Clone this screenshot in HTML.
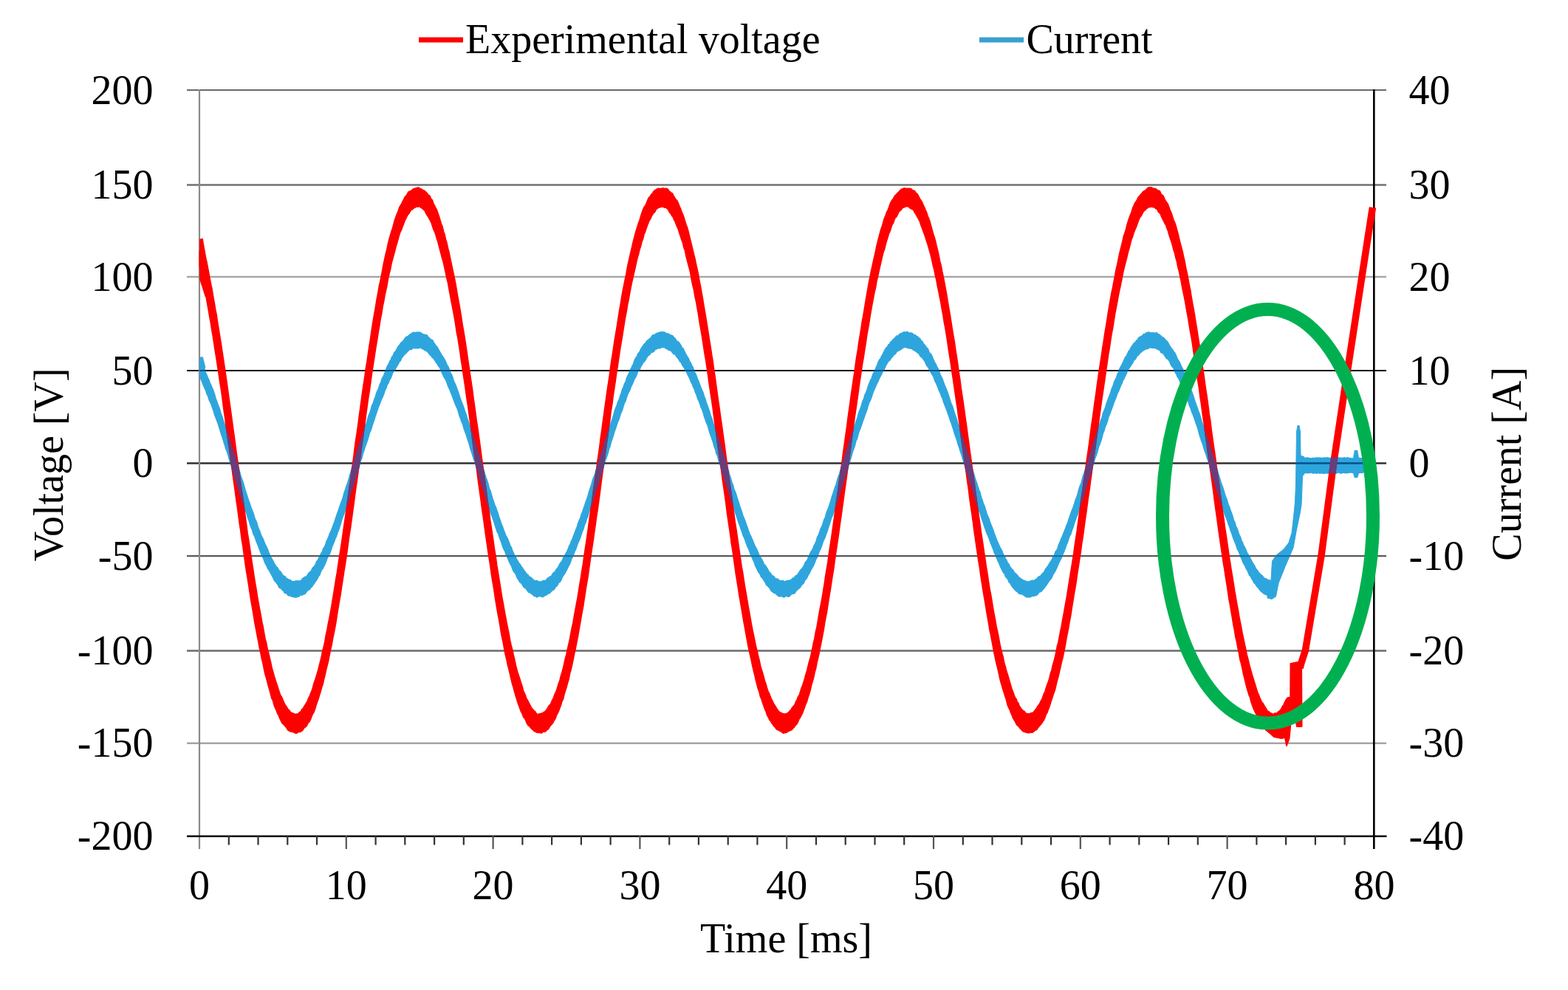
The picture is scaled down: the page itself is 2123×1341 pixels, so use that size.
<!DOCTYPE html>
<html><head><meta charset="utf-8"><title>Voltage and current</title>
<style>html,body{margin:0;padding:0;background:#fff;overflow:hidden;width:2123px;height:1341px;}svg{display:block;}</style>
</head><body>
<svg width="2123" height="1341" viewBox="0 0 2123 1341"><rect width="2123" height="1341" fill="#fff"/><g><line x1="253" y1="122.0" x2="1877" y2="122.0" stroke="#6a6a6a" stroke-width="2.2"/><line x1="253" y1="250.5" x2="1877" y2="250.5" stroke="#707070" stroke-width="2.5"/><line x1="253" y1="375.0" x2="1877" y2="375.0" stroke="#a8a8a8" stroke-width="2.6"/><line x1="253" y1="502.0" x2="1877" y2="502.0" stroke="#050505" stroke-width="2.2"/><line x1="253" y1="627.5" x2="1877" y2="627.5" stroke="#303030" stroke-width="2.5"/><line x1="253" y1="753.2" x2="1877" y2="753.2" stroke="#5a5a5a" stroke-width="2.2"/><line x1="253" y1="881.5" x2="1877" y2="881.5" stroke="#6a6a6a" stroke-width="2.6"/><line x1="253" y1="1006.7" x2="1877" y2="1006.7" stroke="#a5a5a5" stroke-width="2.4"/></g><line x1="270" y1="121" x2="270" y2="1150" stroke="#8a8a8a" stroke-width="2.2"/><line x1="1860.3" y1="121" x2="1860.3" y2="1150" stroke="#000" stroke-width="2.6"/><line x1="253" y1="1132.8" x2="1877.5" y2="1132.8" stroke="#000" stroke-width="2.6"/><g><line x1="309.8" y1="1132" x2="309.8" y2="1144.5" stroke="#333" stroke-width="2.2"/><line x1="349.5" y1="1132" x2="349.5" y2="1144.5" stroke="#333" stroke-width="2.2"/><line x1="389.3" y1="1132" x2="389.3" y2="1144.5" stroke="#333" stroke-width="2.2"/><line x1="429.0" y1="1132" x2="429.0" y2="1144.5" stroke="#333" stroke-width="2.2"/><line x1="468.8" y1="1132" x2="468.8" y2="1150" stroke="#555" stroke-width="2.2"/><line x1="508.6" y1="1132" x2="508.6" y2="1144.5" stroke="#333" stroke-width="2.2"/><line x1="548.3" y1="1132" x2="548.3" y2="1144.5" stroke="#333" stroke-width="2.2"/><line x1="588.1" y1="1132" x2="588.1" y2="1144.5" stroke="#333" stroke-width="2.2"/><line x1="627.8" y1="1132" x2="627.8" y2="1144.5" stroke="#333" stroke-width="2.2"/><line x1="667.6" y1="1132" x2="667.6" y2="1150" stroke="#555" stroke-width="2.2"/><line x1="707.4" y1="1132" x2="707.4" y2="1144.5" stroke="#333" stroke-width="2.2"/><line x1="747.1" y1="1132" x2="747.1" y2="1144.5" stroke="#333" stroke-width="2.2"/><line x1="786.9" y1="1132" x2="786.9" y2="1144.5" stroke="#333" stroke-width="2.2"/><line x1="826.6" y1="1132" x2="826.6" y2="1144.5" stroke="#333" stroke-width="2.2"/><line x1="866.4" y1="1132" x2="866.4" y2="1150" stroke="#555" stroke-width="2.2"/><line x1="906.2" y1="1132" x2="906.2" y2="1144.5" stroke="#333" stroke-width="2.2"/><line x1="945.9" y1="1132" x2="945.9" y2="1144.5" stroke="#333" stroke-width="2.2"/><line x1="985.7" y1="1132" x2="985.7" y2="1144.5" stroke="#333" stroke-width="2.2"/><line x1="1025.4" y1="1132" x2="1025.4" y2="1144.5" stroke="#333" stroke-width="2.2"/><line x1="1065.2" y1="1132" x2="1065.2" y2="1150" stroke="#555" stroke-width="2.2"/><line x1="1105.0" y1="1132" x2="1105.0" y2="1144.5" stroke="#333" stroke-width="2.2"/><line x1="1144.7" y1="1132" x2="1144.7" y2="1144.5" stroke="#333" stroke-width="2.2"/><line x1="1184.5" y1="1132" x2="1184.5" y2="1144.5" stroke="#333" stroke-width="2.2"/><line x1="1224.2" y1="1132" x2="1224.2" y2="1144.5" stroke="#333" stroke-width="2.2"/><line x1="1264.0" y1="1132" x2="1264.0" y2="1150" stroke="#555" stroke-width="2.2"/><line x1="1303.8" y1="1132" x2="1303.8" y2="1144.5" stroke="#333" stroke-width="2.2"/><line x1="1343.5" y1="1132" x2="1343.5" y2="1144.5" stroke="#333" stroke-width="2.2"/><line x1="1383.3" y1="1132" x2="1383.3" y2="1144.5" stroke="#333" stroke-width="2.2"/><line x1="1423.0" y1="1132" x2="1423.0" y2="1144.5" stroke="#333" stroke-width="2.2"/><line x1="1462.8" y1="1132" x2="1462.8" y2="1150" stroke="#555" stroke-width="2.2"/><line x1="1502.6" y1="1132" x2="1502.6" y2="1144.5" stroke="#333" stroke-width="2.2"/><line x1="1542.3" y1="1132" x2="1542.3" y2="1144.5" stroke="#333" stroke-width="2.2"/><line x1="1582.1" y1="1132" x2="1582.1" y2="1144.5" stroke="#333" stroke-width="2.2"/><line x1="1621.8" y1="1132" x2="1621.8" y2="1144.5" stroke="#333" stroke-width="2.2"/><line x1="1661.6" y1="1132" x2="1661.6" y2="1150" stroke="#555" stroke-width="2.2"/><line x1="1701.4" y1="1132" x2="1701.4" y2="1144.5" stroke="#333" stroke-width="2.2"/><line x1="1741.1" y1="1132" x2="1741.1" y2="1144.5" stroke="#333" stroke-width="2.2"/><line x1="1780.9" y1="1132" x2="1780.9" y2="1144.5" stroke="#333" stroke-width="2.2"/><line x1="1820.6" y1="1132" x2="1820.6" y2="1144.5" stroke="#333" stroke-width="2.2"/></g><defs><g id="bl"><path d="M272.5,494.6 L274.0,497.2 L275.5,500.7 L277.0,505.1 L278.5,508.6 L280.0,512.2 L281.5,515.2 L283.0,519.6 L284.5,522.5 L286.0,526.5 L287.5,529.8 L289.0,534.1 L290.5,539.7 L292.0,543.6 L293.5,548.2 L295.0,551.6 L296.5,556.2 L298.0,561.6 L299.5,565.0 L301.0,570.2 L302.5,574.6 L304.0,578.5 L305.5,584.3 L307.0,588.4 L308.5,592.8 L310.0,597.0 L311.5,602.9 L313.0,608.2 L314.5,613.2 L316.0,616.6 L317.5,621.2 L319.0,626.3 L320.5,631.4 L322.0,635.6 L323.5,641.1 L325.0,646.7 L326.5,650.3 L328.0,654.7 L329.5,660.2 L331.0,665.6 L332.5,669.9 L334.0,674.7 L335.5,679.1 L337.0,683.1 L338.5,688.1 L340.0,691.6 L341.5,695.4 L343.0,700.7 L344.5,704.7 L346.0,707.7 L347.5,713.3 L349.0,717.2 L350.5,720.4 L352.0,725.3 L353.5,728.4 L355.0,730.9 L356.5,735.3 L358.0,738.5 L359.5,741.4 L361.0,744.7 L362.5,748.8 L364.0,752.5 L365.5,755.5 L367.0,758.1 L368.5,760.6 L370.0,763.9 L371.5,766.2 L373.0,768.8 L374.5,769.9 L376.0,772.8 L377.5,774.6 L379.0,775.5 L380.5,778.1 L382.0,780.5 L383.5,781.5 L385.0,781.9 L386.5,784.8 L388.0,784.9 L389.5,785.9 L391.0,786.8 L392.5,786.9 L394.0,788.7 L395.5,789.3 L397.0,788.9 L398.5,789.5 L400.0,788.6 L401.5,788.5 L403.0,788.3 L404.5,789.1 L406.0,788.3 L407.5,788.4 L409.0,787.1 L410.5,784.9 L412.0,783.9 L413.5,782.7 L415.0,782.8 L416.5,781.4 L418.0,779.0 L419.5,776.9 L421.0,775.5 L422.5,774.7 L424.0,771.0 L425.5,769.1 L427.0,767.9 L428.5,765.2 L430.0,761.4 L431.5,759.8 L433.0,756.4 L434.5,754.7 L436.0,750.2 L437.5,748.6 L439.0,743.8 L440.5,741.7 L442.0,738.7 L443.5,733.6 L445.0,730.9 L446.5,727.4 L448.0,722.8 L449.5,720.1 L451.0,716.2 L452.5,712.2 L454.0,708.4 L455.5,703.8 L457.0,699.1 L458.5,695.1 L460.0,690.6 L461.5,686.2 L463.0,681.9 L464.5,678.3 L466.0,673.4 L467.5,667.7 L469.0,663.9 L470.5,658.8 L472.0,655.0 L473.5,650.0 L475.0,644.2 L476.5,639.8 L478.0,634.4 L479.5,630.2 L481.0,625.6 L482.5,620.9 L484.0,616.0 L485.5,610.8 L487.0,605.5 L488.5,601.5 L490.0,596.2 L491.5,592.8 L493.0,588.2 L494.5,583.5 L496.0,577.5 L497.5,574.1 L499.0,568.5 L500.5,563.5 L502.0,560.3 L503.5,555.5 L505.0,549.9 L506.5,547.2 L508.0,542.2 L509.5,538.6 L511.0,533.4 L512.5,529.7 L514.0,526.7 L515.5,521.6 L517.0,518.8 L518.5,513.6 L520.0,511.3 L521.5,507.8 L523.0,503.9 L524.5,500.1 L526.0,496.1 L527.5,494.2 L529.0,490.2 L530.5,488.2 L532.0,484.1 L533.5,482.5 L535.0,478.7 L536.5,477.2 L538.0,474.8 L539.5,471.8 L541.0,469.4 L542.5,467.8 L544.0,465.4 L545.5,464.3 L547.0,462.8 L548.5,460.7 L550.0,458.4 L551.5,457.5 L553.0,456.7 L554.5,455.8 L556.0,453.9 L557.5,454.2 L559.0,452.1 L560.5,451.8 L562.0,452.1 L563.5,452.0 L565.0,451.4 L566.5,452.1 L568.0,451.5 L569.5,452.4 L571.0,453.6 L572.5,454.1 L574.0,454.5 L575.5,455.6 L577.0,455.1 L578.5,457.4 L580.0,458.6 L581.5,460.2 L583.0,461.5 L584.5,461.8 L586.0,465.0 L587.5,466.8 L589.0,469.4 L590.5,470.6 L592.0,473.4 L593.5,476.2 L595.0,478.5 L596.5,481.2 L598.0,483.4 L599.5,485.7 L601.0,488.4 L602.5,491.5 L604.0,495.3 L605.5,497.4 L607.0,501.3 L608.5,506.0 L610.0,507.9 L611.5,511.9 L613.0,516.8 L614.5,519.9 L616.0,523.2 L617.5,527.6 L619.0,531.5 L620.5,536.5 L622.0,540.8 L623.5,545.2 L625.0,548.6 L626.5,552.8 L628.0,557.5 L629.5,561.4 L631.0,566.5 L632.5,570.8 L634.0,575.2 L635.5,581.2 L637.0,584.6 L638.5,589.3 L640.0,594.5 L641.5,599.3 L643.0,603.5 L644.5,608.5 L646.0,614.3 L647.5,617.9 L649.0,623.1 L650.5,628.9 L652.0,632.5 L653.5,637.2 L655.0,642.3 L656.5,647.2 L658.0,651.1 L659.5,655.6 L661.0,662.2 L662.5,665.2 L664.0,670.6 L665.5,675.6 L667.0,680.1 L668.5,684.7 L670.0,687.6 L671.5,692.2 L673.0,696.4 L674.5,701.9 L676.0,705.6 L677.5,710.6 L679.0,713.8 L680.5,718.4 L682.0,721.9 L683.5,726.3 L685.0,728.4 L686.5,731.9 L688.0,735.5 L689.5,740.0 L691.0,742.1 L692.5,746.6 L694.0,749.9 L695.5,753.3 L697.0,755.9 L698.5,758.8 L700.0,761.0 L701.5,763.8 L703.0,765.3 L704.5,768.2 L706.0,769.8 L707.5,772.4 L709.0,774.4 L710.5,776.2 L712.0,778.9 L713.5,779.3 L715.0,781.6 L716.5,783.3 L718.0,783.2 L719.5,785.0 L721.0,786.1 L722.5,787.7 L724.0,788.3 L725.5,788.3 L727.0,788.0 L728.5,789.1 L730.0,789.8 L731.5,789.5 L733.0,789.6 L734.5,788.7 L736.0,788.0 L737.5,788.1 L739.0,787.5 L740.5,787.3 L742.0,784.6 L743.5,784.4 L745.0,782.5 L746.5,782.4 L748.0,780.6 L749.5,778.0 L751.0,776.4 L752.5,776.2 L754.0,772.5 L755.5,771.0 L757.0,769.2 L758.5,766.0 L760.0,763.3 L761.5,762.4 L763.0,758.9 L764.5,755.3 L766.0,752.9 L767.5,750.3 L769.0,748.0 L770.5,744.4 L772.0,740.2 L773.5,737.8 L775.0,733.3 L776.5,730.7 L778.0,726.2 L779.5,722.7 L781.0,718.4 L782.5,715.0 L784.0,709.7 L785.5,705.8 L787.0,702.9 L788.5,697.2 L790.0,694.2 L791.5,689.5 L793.0,685.2 L794.5,680.3 L796.0,676.6 L797.5,671.9 L799.0,666.6 L800.5,661.7 L802.0,657.6 L803.5,652.0 L805.0,647.6 L806.5,644.0 L808.0,639.1 L809.5,633.9 L811.0,629.7 L812.5,624.0 L814.0,620.2 L815.5,615.3 L817.0,610.6 L818.5,606.0 L820.0,599.6 L821.5,595.1 L823.0,590.0 L824.5,586.7 L826.0,581.0 L827.5,576.5 L829.0,572.4 L830.5,568.2 L832.0,563.5 L833.5,557.7 L835.0,553.2 L836.5,550.0 L838.0,544.8 L839.5,542.0 L841.0,537.2 L842.5,533.4 L844.0,527.9 L845.5,524.9 L847.0,520.3 L848.5,517.9 L850.0,512.4 L851.5,509.1 L853.0,506.3 L854.5,501.6 L856.0,499.6 L857.5,496.2 L859.0,493.6 L860.5,488.7 L862.0,485.7 L863.5,484.2 L865.0,480.1 L866.5,478.5 L868.0,475.9 L869.5,472.5 L871.0,470.5 L872.5,468.3 L874.0,466.6 L875.5,465.3 L877.0,462.6 L878.5,462.0 L880.0,460.4 L881.5,459.4 L883.0,457.6 L884.5,455.3 L886.0,455.5 L887.5,455.0 L889.0,453.0 L890.5,453.3 L892.0,452.1 L893.5,451.5 L895.0,451.5 L896.5,451.1 L898.0,451.7 L899.5,451.5 L901.0,452.8 L902.5,453.5 L904.0,453.3 L905.5,454.4 L907.0,455.1 L908.5,455.5 L910.0,456.3 L911.5,458.6 L913.0,459.3 L914.5,462.4 L916.0,463.9 L917.5,464.1 L919.0,466.1 L920.5,468.2 L922.0,471.6 L923.5,472.6 L925.0,475.7 L926.5,478.9 L928.0,481.7 L929.5,484.3 L931.0,486.4 L932.5,490.6 L934.0,492.4 L935.5,496.3 L937.0,498.6 L938.5,503.5 L940.0,506.3 L941.5,509.4 L943.0,514.0 L944.5,517.3 L946.0,521.3 L947.5,525.2 L949.0,529.1 L950.5,532.2 L952.0,537.3 L953.5,540.8 L955.0,546.5 L956.5,550.0 L958.0,554.4 L959.5,558.8 L961.0,564.1 L962.5,567.5 L964.0,573.1 L965.5,577.2 L967.0,582.3 L968.5,586.2 L970.0,591.8 L971.5,595.2 L973.0,601.1 L974.5,604.4 L976.0,610.1 L977.5,614.0 L979.0,618.9 L980.5,623.8 L982.0,628.7 L983.5,634.3 L985.0,638.2 L986.5,644.2 L988.0,648.3 L989.5,653.8 L991.0,657.4 L992.5,663.4 L994.0,666.6 L995.5,671.0 L997.0,676.1 L998.5,680.5 L1000.0,685.4 L1001.5,689.8 L1003.0,694.1 L1004.5,699.2 L1006.0,702.5 L1007.5,706.2 L1009.0,710.8 L1010.5,714.8 L1012.0,719.5 L1013.5,723.4 L1015.0,726.4 L1016.5,729.8 L1018.0,733.2 L1019.5,737.2 L1021.0,740.6 L1022.5,743.1 L1024.0,746.5 L1025.5,749.8 L1027.0,753.9 L1028.5,756.2 L1030.0,758.2 L1031.5,761.1 L1033.0,765.1 L1034.5,766.2 L1036.0,768.3 L1037.5,770.7 L1039.0,773.4 L1040.5,775.9 L1042.0,777.2 L1043.5,779.8 L1045.0,781.2 L1046.5,781.6 L1048.0,783.9 L1049.5,785.2 L1051.0,785.3 L1052.5,785.7 L1054.0,787.1 L1055.5,788.7 L1057.0,788.2 L1058.5,788.3 L1060.0,788.1 L1061.5,789.5 L1063.0,789.3 L1064.5,788.6 L1066.0,788.1 L1067.5,788.0 L1069.0,787.6 L1070.5,787.4 L1072.0,787.1 L1073.5,785.0 L1075.0,784.1 L1076.5,783.6 L1078.0,781.2 L1079.5,781.0 L1081.0,779.2 L1082.5,777.2 L1084.0,774.6 L1085.5,772.5 L1087.0,771.3 L1088.5,768.9 L1090.0,766.8 L1091.5,762.8 L1093.0,761.1 L1094.5,759.1 L1096.0,755.2 L1097.5,752.1 L1099.0,748.5 L1100.5,746.7 L1102.0,743.8 L1103.5,739.8 L1105.0,737.0 L1106.5,733.6 L1108.0,728.1 L1109.5,725.8 L1111.0,721.4 L1112.5,716.9 L1114.0,714.0 L1115.5,710.4 L1117.0,704.9 L1118.5,702.2 L1120.0,696.5 L1121.5,692.2 L1123.0,688.8 L1124.5,684.4 L1126.0,679.7 L1127.5,674.5 L1129.0,669.9 L1130.5,665.6 L1132.0,660.5 L1133.5,656.8 L1135.0,650.8 L1136.5,646.2 L1138.0,642.7 L1139.5,636.9 L1141.0,632.2 L1142.5,627.1 L1144.0,623.5 L1145.5,618.0 L1147.0,613.1 L1148.5,608.7 L1150.0,603.5 L1151.5,599.2 L1153.0,594.2 L1154.5,590.1 L1156.0,585.7 L1157.5,580.9 L1159.0,576.3 L1160.5,571.2 L1162.0,567.3 L1163.5,561.5 L1165.0,557.0 L1166.5,553.8 L1168.0,548.8 L1169.5,543.6 L1171.0,540.8 L1172.5,535.0 L1174.0,532.4 L1175.5,528.4 L1177.0,523.0 L1178.5,519.5 L1180.0,515.7 L1181.5,513.0 L1183.0,508.1 L1184.5,505.4 L1186.0,502.5 L1187.5,498.6 L1189.0,495.2 L1190.5,490.9 L1192.0,488.1 L1193.5,486.7 L1195.0,483.1 L1196.5,480.5 L1198.0,477.5 L1199.5,474.4 L1201.0,472.1 L1202.5,471.4 L1204.0,467.8 L1205.5,467.3 L1207.0,464.4 L1208.5,463.3 L1210.0,461.3 L1211.5,460.0 L1213.0,458.6 L1214.5,456.5 L1216.0,456.5 L1217.5,455.6 L1219.0,453.6 L1220.5,453.0 L1222.0,452.9 L1223.5,451.5 L1225.0,451.2 L1226.5,452.3 L1228.0,450.9 L1229.5,452.1 L1231.0,452.6 L1232.5,452.4 L1234.0,452.5 L1235.5,453.9 L1237.0,455.1 L1238.5,455.0 L1240.0,457.0 L1241.5,457.0 L1243.0,459.6 L1244.5,459.6 L1246.0,462.5 L1247.5,463.2 L1249.0,466.2 L1250.5,467.9 L1252.0,469.5 L1253.5,472.1 L1255.0,473.1 L1256.5,477.3 L1258.0,479.9 L1259.5,480.8 L1261.0,484.1 L1262.5,488.0 L1264.0,491.2 L1265.5,493.8 L1267.0,497.0 L1268.5,499.7 L1270.0,503.3 L1271.5,507.7 L1273.0,510.8 L1274.5,513.5 L1276.0,518.0 L1277.5,522.1 L1279.0,525.5 L1280.5,529.4 L1282.0,533.3 L1283.5,537.9 L1285.0,542.8 L1286.5,547.5 L1288.0,550.5 L1289.5,555.2 L1291.0,560.0 L1292.5,564.2 L1294.0,568.6 L1295.5,574.2 L1297.0,577.6 L1298.5,582.9 L1300.0,588.4 L1301.5,592.9 L1303.0,596.2 L1304.5,602.6 L1306.0,606.5 L1307.5,611.3 L1309.0,615.5 L1310.5,621.1 L1312.0,626.3 L1313.5,630.8 L1315.0,636.1 L1316.5,640.4 L1318.0,645.3 L1319.5,650.6 L1321.0,654.5 L1322.5,659.3 L1324.0,664.2 L1325.5,667.5 L1327.0,673.5 L1328.5,677.7 L1330.0,682.7 L1331.5,685.8 L1333.0,690.9 L1334.5,695.7 L1336.0,699.7 L1337.5,703.0 L1339.0,707.8 L1340.5,711.7 L1342.0,715.2 L1343.5,719.1 L1345.0,723.9 L1346.5,727.5 L1348.0,732.0 L1349.5,735.1 L1351.0,738.5 L1352.5,741.7 L1354.0,744.5 L1355.5,747.2 L1357.0,752.0 L1358.5,753.3 L1360.0,757.7 L1361.5,759.5 L1363.0,763.3 L1364.5,764.6 L1366.0,768.1 L1367.5,770.2 L1369.0,772.1 L1370.5,773.1 L1372.0,776.5 L1373.5,777.4 L1375.0,779.0 L1376.5,780.3 L1378.0,782.9 L1379.5,783.6 L1381.0,784.9 L1382.5,785.7 L1384.0,787.2 L1385.5,787.5 L1387.0,788.2 L1388.5,788.6 L1390.0,788.9 L1391.5,790.1 L1393.0,789.3 L1394.5,788.8 L1396.0,789.2 L1397.5,787.7 L1399.0,787.9 L1400.5,788.5 L1402.0,786.5 L1403.5,786.3 L1405.0,784.9 L1406.5,783.0 L1408.0,782.1 L1409.5,781.5 L1411.0,779.9 L1412.5,777.9 L1414.0,776.7 L1415.5,774.4 L1417.0,771.6 L1418.5,769.4 L1420.0,767.7 L1421.5,765.3 L1423.0,762.5 L1424.5,760.5 L1426.0,757.8 L1427.5,754.3 L1429.0,752.5 L1430.5,747.8 L1432.0,746.2 L1433.5,743.0 L1435.0,737.9 L1436.5,734.9 L1438.0,730.8 L1439.5,727.8 L1441.0,723.9 L1442.5,720.1 L1444.0,716.2 L1445.5,712.0 L1447.0,709.1 L1448.5,703.8 L1450.0,699.8 L1451.5,695.2 L1453.0,691.4 L1454.5,687.5 L1456.0,683.1 L1457.5,677.9 L1459.0,674.5 L1460.5,670.0 L1462.0,663.9 L1463.5,659.0 L1465.0,656.1 L1466.5,650.2 L1468.0,644.7 L1469.5,641.1 L1471.0,635.9 L1472.5,632.0 L1474.0,627.5 L1475.5,622.5 L1477.0,617.8 L1478.5,612.9 L1480.0,606.9 L1481.5,602.1 L1483.0,598.7 L1484.5,592.6 L1486.0,587.9 L1487.5,583.4 L1489.0,579.0 L1490.5,574.8 L1492.0,569.3 L1493.5,566.1 L1495.0,560.0 L1496.5,556.5 L1498.0,552.4 L1499.5,547.4 L1501.0,543.4 L1502.5,539.0 L1504.0,535.4 L1505.5,530.9 L1507.0,526.3 L1508.5,522.8 L1510.0,517.9 L1511.5,514.8 L1513.0,512.1 L1514.5,507.2 L1516.0,504.4 L1517.5,499.7 L1519.0,497.1 L1520.5,494.2 L1522.0,491.2 L1523.5,487.7 L1525.0,484.4 L1526.5,483.2 L1528.0,479.7 L1529.5,476.3 L1531.0,475.4 L1532.5,471.5 L1534.0,469.7 L1535.5,467.1 L1537.0,465.4 L1538.5,464.2 L1540.0,462.1 L1541.5,461.2 L1543.0,458.3 L1544.5,457.6 L1546.0,456.7 L1547.5,456.0 L1549.0,454.0 L1550.5,454.6 L1552.0,452.5 L1553.5,452.4 L1555.0,451.4 L1556.5,451.9 L1558.0,452.3 L1559.5,452.4 L1561.0,452.2 L1562.5,452.4 L1564.0,453.3 L1565.5,452.2 L1567.0,454.6 L1568.5,454.1 L1570.0,455.4 L1571.5,456.7 L1573.0,458.8 L1574.5,458.6 L1576.0,460.6 L1577.5,461.8 L1579.0,463.3 L1580.5,465.4 L1582.0,468.5 L1583.5,470.7 L1585.0,473.2 L1586.5,474.6 L1588.0,477.3 L1589.5,479.0 L1591.0,482.3 L1592.5,486.1 L1594.0,488.7 L1595.5,491.0 L1597.0,494.1 L1598.5,497.8 L1600.0,500.1 L1601.5,505.0 L1603.0,508.5 L1604.5,510.8 L1606.0,514.7 L1607.5,518.6 L1609.0,522.7 L1610.5,527.8 L1612.0,530.5 L1613.5,534.8 L1615.0,539.1 L1616.5,544.3 L1618.0,548.3 L1619.5,552.2 L1621.0,557.1 L1622.5,560.7 L1624.0,565.2 L1625.5,571.1 L1627.0,575.3 L1628.5,578.7 L1630.0,584.8 L1631.5,589.6 L1633.0,592.9 L1634.5,598.4 L1636.0,602.4 L1637.5,607.6 L1639.0,613.2 L1640.5,617.0 L1642.0,622.9 L1643.5,627.5 L1645.0,632.5 L1646.5,636.0 L1648.0,642.0 L1649.5,646.5 L1651.0,651.6 L1652.5,656.5 L1654.0,660.0 L1655.5,665.0 L1657.0,670.0 L1658.5,674.4 L1660.0,677.7 L1661.5,683.9 L1663.0,686.8 L1664.5,691.5 L1666.0,695.3 L1667.5,699.9 L1669.0,705.4 L1670.5,708.2 L1672.0,713.5 L1673.5,716.1 L1675.0,720.7 L1676.5,725.2 L1678.0,727.9 L1679.5,732.8 L1681.0,735.4 L1682.5,739.5 L1684.0,742.2 L1685.5,745.1 L1687.0,749.4 L1688.5,751.5 L1690.0,754.4 L1691.5,757.1 L1693.0,759.8 L1694.5,763.1 L1696.0,764.8 L1697.5,767.3 L1699.0,770.9 L1700.5,772.7 L1702.0,774.7 L1703.5,777.3 L1705.0,778.2 L1706.5,780.5 L1708.0,780.7 L1709.5,783.0 L1711.0,784.2 L1712.5,785.9 L1714.0,785.2 L1715.5,786.9 L1717.0,787.6 L1718.5,787.3 L1718.5,805.2 L1717.0,804.3 L1715.5,804.5 L1714.0,803.6 L1712.5,803.3 L1711.0,802.0 L1709.5,800.6 L1708.0,799.6 L1706.5,797.7 L1705.0,795.7 L1703.5,793.9 L1702.0,792.2 L1700.5,789.3 L1699.0,788.5 L1697.5,785.1 L1696.0,783.1 L1694.5,779.7 L1693.0,778.7 L1691.5,774.9 L1690.0,771.6 L1688.5,769.3 L1687.0,765.5 L1685.5,763.4 L1684.0,760.4 L1682.5,756.0 L1681.0,753.1 L1679.5,748.8 L1678.0,745.3 L1676.5,742.7 L1675.0,737.6 L1673.5,733.9 L1672.0,730.3 L1670.5,726.5 L1669.0,721.3 L1667.5,717.8 L1666.0,712.9 L1664.5,709.1 L1663.0,704.3 L1661.5,700.3 L1660.0,697.0 L1658.5,692.6 L1657.0,686.5 L1655.5,682.1 L1654.0,677.3 L1652.5,673.9 L1651.0,669.4 L1649.5,664.5 L1648.0,658.9 L1646.5,653.8 L1645.0,648.9 L1643.5,644.4 L1642.0,640.5 L1640.5,635.1 L1639.0,629.3 L1637.5,624.7 L1636.0,620.6 L1634.5,615.5 L1633.0,611.3 L1631.5,607.2 L1630.0,601.5 L1628.5,597.7 L1627.0,593.2 L1625.5,588.6 L1624.0,582.6 L1622.5,577.7 L1621.0,573.5 L1619.5,569.1 L1618.0,564.7 L1616.5,560.7 L1615.0,557.3 L1613.5,552.3 L1612.0,549.4 L1610.5,543.8 L1609.0,541.5 L1607.5,537.1 L1606.0,532.0 L1604.5,529.9 L1603.0,525.2 L1601.5,521.1 L1600.0,519.5 L1598.5,514.6 L1597.0,511.8 L1595.5,509.7 L1594.0,505.9 L1592.5,503.8 L1591.0,499.8 L1589.5,496.5 L1588.0,495.6 L1586.5,493.0 L1585.0,489.0 L1583.5,487.0 L1582.0,484.6 L1580.5,484.4 L1579.0,482.2 L1577.5,479.8 L1576.0,477.8 L1574.5,476.8 L1573.0,476.4 L1571.5,473.3 L1570.0,472.9 L1568.5,471.5 L1567.0,471.6 L1565.5,470.4 L1564.0,469.2 L1562.5,469.8 L1561.0,469.6 L1559.5,469.7 L1558.0,468.7 L1556.5,469.6 L1555.0,469.7 L1553.5,470.9 L1552.0,470.1 L1550.5,471.9 L1549.0,472.0 L1547.5,473.5 L1546.0,473.6 L1544.5,475.7 L1543.0,476.2 L1541.5,478.6 L1540.0,480.3 L1538.5,480.7 L1537.0,484.2 L1535.5,485.9 L1534.0,487.0 L1532.5,490.4 L1531.0,492.7 L1529.5,495.2 L1528.0,497.2 L1526.5,499.3 L1525.0,502.2 L1523.5,506.3 L1522.0,508.9 L1520.5,512.4 L1519.0,514.5 L1517.5,518.9 L1516.0,521.9 L1514.5,525.8 L1513.0,529.7 L1511.5,532.1 L1510.0,536.8 L1508.5,540.7 L1507.0,544.0 L1505.5,548.4 L1504.0,552.8 L1502.5,556.8 L1501.0,560.8 L1499.5,564.1 L1498.0,570.0 L1496.5,574.2 L1495.0,577.4 L1493.5,583.0 L1492.0,586.3 L1490.5,592.8 L1489.0,597.3 L1487.5,601.6 L1486.0,605.1 L1484.5,611.3 L1483.0,615.9 L1481.5,619.5 L1480.0,624.4 L1478.5,628.8 L1477.0,635.2 L1475.5,640.2 L1474.0,644.5 L1472.5,648.0 L1471.0,653.1 L1469.5,657.7 L1468.0,663.2 L1466.5,668.8 L1465.0,672.5 L1463.5,677.3 L1462.0,682.2 L1460.5,685.9 L1459.0,691.4 L1457.5,696.6 L1456.0,700.1 L1454.5,704.5 L1453.0,708.6 L1451.5,714.0 L1450.0,717.4 L1448.5,722.7 L1447.0,725.1 L1445.5,729.3 L1444.0,734.0 L1442.5,737.4 L1441.0,742.0 L1439.5,745.8 L1438.0,749.4 L1436.5,753.3 L1435.0,756.5 L1433.5,759.0 L1432.0,762.5 L1430.5,766.2 L1429.0,769.6 L1427.5,772.7 L1426.0,775.2 L1424.5,777.4 L1423.0,780.9 L1421.5,783.8 L1420.0,784.9 L1418.5,787.4 L1417.0,789.3 L1415.5,791.9 L1414.0,793.6 L1412.5,796.0 L1411.0,797.1 L1409.5,799.4 L1408.0,800.3 L1406.5,800.5 L1405.0,802.5 L1403.5,804.5 L1402.0,805.2 L1400.5,805.3 L1399.0,806.0 L1397.5,805.4 L1396.0,806.4 L1394.5,807.4 L1393.0,806.9 L1391.5,807.4 L1390.0,807.2 L1388.5,806.1 L1387.0,804.9 L1385.5,804.2 L1384.0,803.5 L1382.5,802.9 L1381.0,803.1 L1379.5,801.6 L1378.0,800.2 L1376.5,799.1 L1375.0,797.7 L1373.5,795.8 L1372.0,794.2 L1370.5,792.0 L1369.0,788.7 L1367.5,787.8 L1366.0,784.2 L1364.5,782.0 L1363.0,780.8 L1361.5,776.3 L1360.0,775.2 L1358.5,772.2 L1357.0,769.3 L1355.5,766.2 L1354.0,762.1 L1352.5,759.3 L1351.0,755.6 L1349.5,751.7 L1348.0,749.0 L1346.5,744.3 L1345.0,740.7 L1343.5,736.9 L1342.0,733.1 L1340.5,728.7 L1339.0,724.9 L1337.5,721.8 L1336.0,717.2 L1334.5,713.6 L1333.0,708.5 L1331.5,704.2 L1330.0,700.0 L1328.5,694.4 L1327.0,691.0 L1325.5,685.9 L1324.0,681.7 L1322.5,676.1 L1321.0,672.3 L1319.5,667.0 L1318.0,662.2 L1316.5,656.8 L1315.0,653.8 L1313.5,648.6 L1312.0,643.7 L1310.5,639.4 L1309.0,633.7 L1307.5,629.2 L1306.0,624.5 L1304.5,619.5 L1303.0,614.6 L1301.5,610.4 L1300.0,605.2 L1298.5,601.3 L1297.0,595.5 L1295.5,591.4 L1294.0,587.3 L1292.5,581.8 L1291.0,577.4 L1289.5,572.5 L1288.0,569.0 L1286.5,564.1 L1285.0,560.2 L1283.5,555.6 L1282.0,551.9 L1280.5,547.9 L1279.0,544.2 L1277.5,539.0 L1276.0,536.1 L1274.5,531.7 L1273.0,528.7 L1271.5,524.8 L1270.0,521.0 L1268.5,517.7 L1267.0,514.9 L1265.5,510.2 L1264.0,507.4 L1262.5,505.3 L1261.0,502.0 L1259.5,499.9 L1258.0,496.4 L1256.5,495.0 L1255.0,492.1 L1253.5,488.7 L1252.0,486.4 L1250.5,484.7 L1249.0,482.4 L1247.5,481.9 L1246.0,479.1 L1244.5,477.4 L1243.0,476.4 L1241.5,475.3 L1240.0,473.8 L1238.5,473.4 L1237.0,472.6 L1235.5,470.8 L1234.0,470.8 L1232.5,470.5 L1231.0,469.6 L1229.5,470.1 L1228.0,469.3 L1226.5,468.8 L1225.0,468.6 L1223.5,469.0 L1222.0,470.0 L1220.5,470.5 L1219.0,472.1 L1217.5,472.9 L1216.0,473.6 L1214.5,474.4 L1213.0,475.1 L1211.5,477.9 L1210.0,479.2 L1208.5,480.2 L1207.0,482.6 L1205.5,483.8 L1204.0,486.8 L1202.5,487.4 L1201.0,489.6 L1199.5,491.9 L1198.0,494.6 L1196.5,498.2 L1195.0,501.0 L1193.5,503.2 L1192.0,506.5 L1190.5,509.4 L1189.0,512.2 L1187.5,516.2 L1186.0,518.7 L1184.5,522.4 L1183.0,525.6 L1181.5,529.0 L1180.0,533.1 L1178.5,537.9 L1177.0,541.8 L1175.5,544.3 L1174.0,548.7 L1172.5,554.2 L1171.0,558.3 L1169.5,562.6 L1168.0,566.7 L1166.5,570.7 L1165.0,575.4 L1163.5,579.7 L1162.0,583.0 L1160.5,587.8 L1159.0,593.9 L1157.5,596.8 L1156.0,603.2 L1154.5,607.4 L1153.0,611.5 L1151.5,617.1 L1150.0,622.1 L1148.5,626.8 L1147.0,631.9 L1145.5,636.2 L1144.0,641.4 L1142.5,645.1 L1141.0,649.8 L1139.5,655.8 L1138.0,659.2 L1136.5,663.5 L1135.0,668.7 L1133.5,674.2 L1132.0,678.7 L1130.5,683.1 L1129.0,687.4 L1127.5,693.1 L1126.0,697.4 L1124.5,700.5 L1123.0,705.1 L1121.5,710.1 L1120.0,714.5 L1118.5,719.5 L1117.0,723.4 L1115.5,727.9 L1114.0,730.7 L1112.5,734.5 L1111.0,739.3 L1109.5,743.0 L1108.0,745.8 L1106.5,750.3 L1105.0,754.2 L1103.5,756.6 L1102.0,760.6 L1100.5,764.5 L1099.0,767.4 L1097.5,769.8 L1096.0,772.6 L1094.5,776.0 L1093.0,778.0 L1091.5,781.6 L1090.0,783.8 L1088.5,785.2 L1087.0,789.0 L1085.5,790.3 L1084.0,791.7 L1082.5,794.4 L1081.0,795.7 L1079.5,797.3 L1078.0,798.1 L1076.5,799.9 L1075.0,802.5 L1073.5,802.7 L1072.0,803.1 L1070.5,803.6 L1069.0,805.6 L1067.5,806.8 L1066.0,805.8 L1064.5,805.7 L1063.0,806.1 L1061.5,807.3 L1060.0,806.8 L1058.5,805.9 L1057.0,805.8 L1055.5,806.4 L1054.0,805.6 L1052.5,804.1 L1051.0,802.8 L1049.5,802.1 L1048.0,801.4 L1046.5,800.3 L1045.0,798.9 L1043.5,795.8 L1042.0,794.4 L1040.5,792.4 L1039.0,791.7 L1037.5,788.1 L1036.0,786.2 L1034.5,783.6 L1033.0,781.5 L1031.5,780.1 L1030.0,775.9 L1028.5,774.7 L1027.0,771.8 L1025.5,768.5 L1024.0,765.7 L1022.5,760.8 L1021.0,757.9 L1019.5,753.9 L1018.0,751.8 L1016.5,746.8 L1015.0,743.0 L1013.5,740.0 L1012.0,736.1 L1010.5,731.6 L1009.0,727.7 L1007.5,724.8 L1006.0,719.5 L1004.5,716.1 L1003.0,711.4 L1001.5,707.5 L1000.0,702.9 L998.5,697.9 L997.0,693.9 L995.5,688.5 L994.0,683.7 L992.5,680.1 L991.0,676.1 L989.5,670.1 L988.0,665.7 L986.5,661.0 L985.0,655.8 L983.5,652.3 L982.0,646.3 L980.5,641.4 L979.0,637.5 L977.5,632.2 L976.0,626.8 L974.5,623.8 L973.0,617.3 L971.5,614.2 L970.0,608.5 L968.5,604.7 L967.0,598.7 L965.5,594.5 L964.0,590.1 L962.5,586.1 L961.0,580.8 L959.5,575.6 L958.0,572.6 L956.5,568.0 L955.0,563.9 L953.5,558.2 L952.0,554.0 L950.5,551.4 L949.0,546.2 L947.5,542.5 L946.0,539.4 L944.5,534.2 L943.0,531.3 L941.5,526.4 L940.0,523.7 L938.5,519.4 L937.0,516.9 L935.5,512.9 L934.0,509.7 L932.5,506.9 L931.0,503.6 L929.5,501.5 L928.0,498.0 L926.5,495.7 L925.0,493.6 L923.5,490.2 L922.0,489.2 L920.5,486.4 L919.0,484.2 L917.5,482.7 L916.0,480.1 L914.5,478.6 L913.0,478.3 L911.5,476.7 L910.0,474.0 L908.5,473.9 L907.0,472.1 L905.5,472.7 L904.0,470.7 L902.5,471.1 L901.0,469.4 L899.5,469.0 L898.0,469.1 L896.5,468.9 L895.0,468.6 L893.5,470.2 L892.0,470.2 L890.5,470.2 L889.0,470.9 L887.5,471.7 L886.0,471.8 L884.5,474.6 L883.0,475.7 L881.5,476.1 L880.0,476.6 L878.5,479.5 L877.0,479.8 L875.5,482.2 L874.0,484.1 L872.5,487.0 L871.0,489.1 L869.5,490.3 L868.0,493.3 L866.5,495.4 L865.0,499.4 L863.5,501.2 L862.0,503.2 L860.5,507.4 L859.0,510.7 L857.5,512.9 L856.0,517.1 L854.5,520.3 L853.0,523.1 L851.5,527.9 L850.0,530.3 L848.5,533.7 L847.0,537.4 L845.5,542.9 L844.0,545.3 L842.5,550.1 L841.0,555.3 L839.5,558.6 L838.0,562.8 L836.5,567.9 L835.0,571.1 L833.5,575.4 L832.0,580.3 L830.5,584.2 L829.0,589.4 L827.5,594.1 L826.0,598.1 L824.5,604.5 L823.0,608.1 L821.5,614.1 L820.0,618.6 L818.5,622.5 L817.0,626.6 L815.5,633.2 L814.0,636.9 L812.5,642.7 L811.0,646.5 L809.5,650.9 L808.0,657.1 L806.5,661.5 L805.0,665.2 L803.5,670.1 L802.0,674.6 L800.5,680.3 L799.0,683.9 L797.5,688.9 L796.0,692.7 L794.5,699.0 L793.0,702.1 L791.5,707.4 L790.0,710.5 L788.5,716.1 L787.0,719.4 L785.5,724.0 L784.0,728.5 L782.5,732.1 L781.0,735.2 L779.5,739.5 L778.0,744.0 L776.5,746.7 L775.0,751.5 L773.5,754.1 L772.0,757.7 L770.5,762.2 L769.0,765.2 L767.5,767.8 L766.0,771.3 L764.5,774.1 L763.0,776.8 L761.5,778.5 L760.0,781.2 L758.5,784.9 L757.0,787.4 L755.5,787.8 L754.0,790.8 L752.5,793.2 L751.0,793.7 L749.5,797.1 L748.0,797.9 L746.5,799.0 L745.0,800.2 L743.5,802.2 L742.0,802.3 L740.5,803.6 L739.0,804.5 L737.5,805.5 L736.0,805.8 L734.5,807.1 L733.0,806.2 L731.5,806.0 L730.0,806.0 L728.5,805.9 L727.0,807.3 L725.5,805.3 L724.0,806.1 L722.5,804.0 L721.0,803.6 L719.5,802.4 L718.0,801.3 L716.5,801.0 L715.0,798.8 L713.5,796.9 L712.0,795.1 L710.5,794.5 L709.0,792.3 L707.5,789.5 L706.0,788.3 L704.5,786.8 L703.0,784.2 L701.5,782.0 L700.0,777.9 L698.5,775.4 L697.0,773.8 L695.5,770.7 L694.0,766.1 L692.5,763.7 L691.0,760.8 L689.5,757.1 L688.0,753.4 L686.5,750.7 L685.0,745.9 L683.5,743.4 L682.0,739.8 L680.5,734.9 L679.0,730.9 L677.5,727.2 L676.0,722.2 L674.5,719.7 L673.0,715.1 L671.5,710.4 L670.0,705.3 L668.5,701.6 L667.0,697.3 L665.5,693.5 L664.0,687.6 L662.5,684.3 L661.0,678.7 L659.5,674.9 L658.0,668.8 L656.5,663.9 L655.0,659.8 L653.5,654.7 L652.0,650.7 L650.5,645.1 L649.0,639.8 L647.5,635.6 L646.0,630.7 L644.5,625.5 L643.0,621.8 L641.5,617.1 L640.0,611.8 L638.5,608.2 L637.0,602.0 L635.5,597.4 L634.0,592.8 L632.5,587.8 L631.0,584.1 L629.5,580.0 L628.0,574.1 L626.5,571.0 L625.0,566.5 L623.5,562.6 L622.0,557.4 L620.5,552.6 L619.0,549.7 L617.5,546.1 L616.0,542.0 L614.5,538.1 L613.0,533.7 L611.5,530.5 L610.0,526.5 L608.5,523.4 L607.0,519.5 L605.5,515.2 L604.0,512.3 L602.5,510.2 L601.0,506.7 L599.5,503.5 L598.0,500.1 L596.5,496.9 L595.0,495.1 L593.5,492.3 L592.0,490.4 L590.5,488.1 L589.0,485.7 L587.5,483.7 L586.0,482.9 L584.5,480.4 L583.0,479.5 L581.5,477.0 L580.0,475.7 L578.5,474.0 L577.0,473.7 L575.5,473.0 L574.0,470.9 L572.5,471.3 L571.0,469.5 L569.5,469.5 L568.0,469.7 L566.5,470.0 L565.0,470.2 L563.5,469.4 L562.0,470.3 L560.5,469.9 L559.0,469.7 L557.5,471.1 L556.0,472.0 L554.5,471.9 L553.0,473.0 L551.5,474.5 L550.0,476.0 L548.5,477.5 L547.0,478.8 L545.5,480.5 L544.0,482.5 L542.5,484.2 L541.0,487.8 L539.5,488.9 L538.0,492.2 L536.5,494.7 L535.0,497.1 L533.5,500.1 L532.0,501.9 L530.5,504.0 L529.0,508.3 L527.5,511.8 L526.0,513.8 L524.5,518.3 L523.0,520.2 L521.5,525.0 L520.0,527.6 L518.5,532.7 L517.0,536.5 L515.5,539.4 L514.0,543.0 L512.5,547.2 L511.0,550.5 L509.5,555.2 L508.0,559.5 L506.5,564.0 L505.0,569.1 L503.5,572.8 L502.0,578.2 L500.5,582.7 L499.0,585.7 L497.5,591.4 L496.0,596.3 L494.5,600.6 L493.0,604.4 L491.5,609.5 L490.0,613.7 L488.5,620.0 L487.0,623.5 L485.5,629.5 L484.0,634.4 L482.5,638.4 L481.0,643.5 L479.5,648.0 L478.0,652.6 L476.5,658.0 L475.0,662.3 L473.5,666.6 L472.0,671.9 L470.5,677.0 L469.0,681.1 L467.5,685.8 L466.0,690.3 L464.5,695.4 L463.0,698.7 L461.5,702.9 L460.0,708.3 L458.5,713.4 L457.0,717.6 L455.5,721.0 L454.0,726.0 L452.5,729.1 L451.0,733.4 L449.5,736.8 L448.0,740.5 L446.5,745.5 L445.0,749.3 L443.5,752.4 L442.0,754.6 L440.5,759.0 L439.0,762.6 L437.5,766.1 L436.0,769.1 L434.5,770.9 L433.0,773.8 L431.5,778.1 L430.0,779.7 L428.5,783.0 L427.0,785.4 L425.5,787.1 L424.0,789.9 L422.5,791.7 L421.0,793.9 L419.5,795.1 L418.0,797.6 L416.5,797.8 L415.0,799.3 L413.5,800.9 L412.0,803.2 L410.5,803.2 L409.0,804.6 L407.5,804.6 L406.0,804.7 L404.5,806.1 L403.0,806.9 L401.5,807.3 L400.0,807.7 L398.5,806.2 L397.0,807.1 L395.5,806.7 L394.0,805.5 L392.5,805.5 L391.0,805.3 L389.5,802.6 L388.0,801.9 L386.5,802.3 L385.0,799.5 L383.5,798.3 L382.0,796.4 L380.5,795.5 L379.0,794.7 L377.5,791.1 L376.0,789.5 L374.5,787.0 L373.0,786.1 L371.5,782.7 L370.0,779.8 L368.5,777.0 L367.0,774.4 L365.5,771.4 L364.0,769.5 L362.5,766.0 L361.0,763.6 L359.5,760.3 L358.0,755.5 L356.5,753.1 L355.0,749.7 L353.5,745.8 L352.0,741.8 L350.5,737.6 L349.0,734.2 L347.5,729.7 L346.0,725.5 L344.5,722.8 L343.0,717.6 L341.5,714.3 L340.0,710.0 L338.5,704.7 L337.0,701.1 L335.5,695.4 L334.0,691.9 L332.5,686.0 L331.0,682.1 L329.5,677.9 L328.0,672.4 L326.5,669.1 L325.0,663.8 L323.5,658.9 L322.0,654.7 L320.5,649.0 L319.0,644.5 L317.5,639.1 L316.0,634.8 L314.5,630.2 L313.0,625.0 L311.5,620.8 L310.0,614.8 L308.5,610.4 L307.0,606.8 L305.5,601.5 L304.0,597.0 L302.5,591.6 L301.0,587.6 L299.5,582.7 L298.0,577.8 L296.5,573.0 L295.0,569.2 L293.5,565.3 L292.0,561.4 L290.5,555.8 L289.0,552.0 L287.5,547.4 L286.0,544.0 L284.5,541.2 L283.0,535.9 L281.5,533.3 L280.0,528.1 L278.5,525.2 L277.0,521.8 L275.5,518.1 L274.0,514.2 L272.5,511.1Z" stroke-width="4.5" stroke-linejoin="round"/><path d="M270.5,484 L274.5,483.5 L278,497 L276,505 L270.5,506Z" stroke-width="0.5"/><path d="M1716,806 L1719.5,800 L1721,785 L1722.5,760 L1728,752 L1738,744 L1745,735 L1749,722 L1751.5,700 L1753.5,680 L1754.5,655 L1755,620 L1755.5,585 L1757,576.5 L1759,576.5 L1760.5,585 L1761,617 L1766,619 L1766,642 L1763.5,645 L1763,660 L1762,684 L1760.4,694 L1755,720 L1751,742 L1740,767.5 L1731,790 L1727.5,808 L1722,811.5 L1716,810Z" stroke-width="1" stroke-linejoin="round"/><path d="M1760.0,623.4 L1761.5,623.3 L1763.0,623.6 L1764.5,622.5 L1766.0,623.7 L1767.5,622.7 L1769.0,622.5 L1770.5,622.2 L1772.0,623.6 L1773.5,622.9 L1775.0,623.2 L1776.5,623.0 L1778.0,622.7 L1779.5,623.4 L1781.0,622.4 L1782.5,622.3 L1784.0,623.0 L1785.5,622.3 L1787.0,623.0 L1788.5,622.4 L1790.0,623.3 L1791.5,623.0 L1793.0,622.3 L1794.5,622.3 L1796.0,623.6 L1797.5,622.1 L1799.0,623.3 L1800.5,622.6 L1802.0,622.8 L1803.5,623.0 L1805.0,623.7 L1806.5,622.1 L1808.0,622.1 L1809.5,622.3 L1811.0,622.2 L1812.5,622.6 L1814.0,622.5 L1815.5,622.8 L1817.0,622.6 L1818.5,622.8 L1820.0,622.1 L1821.5,623.2 L1823.0,623.5 L1824.5,622.1 L1826.0,623.2 L1827.5,622.8 L1829.0,623.5 L1830.5,623.2 L1832.0,623.2 L1833.5,623.6 L1835.0,622.3 L1836.5,622.7 L1838.0,623.4 L1839.5,622.9 L1841.0,622.7 L1842.5,623.2 L1844.0,623.3 L1844.0,638.2 L1842.5,637.7 L1841.0,638.1 L1839.5,638.2 L1838.0,638.5 L1836.5,638.4 L1835.0,638.3 L1833.5,638.2 L1832.0,637.7 L1830.5,638.0 L1829.0,637.5 L1827.5,637.6 L1826.0,638.1 L1824.5,638.2 L1823.0,638.3 L1821.5,638.4 L1820.0,637.8 L1818.5,638.0 L1817.0,637.7 L1815.5,638.9 L1814.0,637.8 L1812.5,637.8 L1811.0,637.4 L1809.5,638.8 L1808.0,638.4 L1806.5,638.6 L1805.0,637.5 L1803.5,638.2 L1802.0,637.4 L1800.5,637.9 L1799.0,638.0 L1797.5,638.9 L1796.0,638.2 L1794.5,638.7 L1793.0,638.9 L1791.5,639.0 L1790.0,637.9 L1788.5,637.9 L1787.0,638.9 L1785.5,638.2 L1784.0,638.0 L1782.5,638.9 L1781.0,637.6 L1779.5,638.3 L1778.0,638.8 L1776.5,637.5 L1775.0,637.5 L1773.5,638.2 L1772.0,637.5 L1770.5,638.5 L1769.0,637.5 L1767.5,638.2 L1766.0,638.3 L1764.5,637.6 L1763.0,637.5 L1761.5,638.7 L1760.0,637.5Z" stroke-width="6" stroke-linejoin="round"/><path d="M1832,622 L1834,610 L1838,610 L1840,622 L1840,640 L1838,647 L1834,647 L1832,640Z" stroke-width="0.5"/></g><g id="rd"><path d="M270.3,324 L274.5,323 L279,349 L283.5,374 L282,402 L278,402 L270.3,378Z" stroke-width="0.5"/><path d="M273.5,342.1 L275.0,349.4 L276.5,354.6 L278.0,362.3 L279.5,370.3 L281.0,377.9 L282.5,386.0 L284.0,392.6 L285.5,402.6 L287.0,410.3 L288.5,419.7 L290.0,426.9 L291.5,437.7 L293.0,446.7 L294.5,455.7 L296.0,464.9 L297.5,475.0 L299.0,484.9 L300.5,495.1 L302.0,505.1 L303.5,515.6 L305.0,526.4 L306.5,537.6 L308.0,548.1 L309.5,558.5 L311.0,569.7 L312.5,581.0 L314.0,591.4 L315.5,603.1 L317.0,614.1 L318.5,624.3 L320.0,635.9 L321.5,647.5 L323.0,658.5 L324.5,668.5 L326.0,678.6 L327.5,689.5 L329.0,699.9 L330.5,711.5 L332.0,722.8 L333.5,732.0 L335.0,741.5 L336.5,752.3 L338.0,762.2 L339.5,771.6 L341.0,781.8 L342.5,791.1 L344.0,799.6 L345.5,809.8 L347.0,817.9 L348.5,826.1 L350.0,833.6 L351.5,842.8 L353.0,849.5 L354.5,858.1 L356.0,866.2 L357.5,871.7 L359.0,879.5 L360.5,885.4 L362.0,892.0 L363.5,898.0 L365.0,905.4 L366.5,910.3 L368.0,916.3 L369.5,920.5 L371.0,926.0 L372.5,930.0 L374.0,934.8 L375.5,939.2 L377.0,943.6 L378.5,945.5 L380.0,949.2 L381.5,952.7 L383.0,956.0 L384.5,958.0 L386.0,960.3 L387.5,963.3 L389.0,963.9 L390.5,966.9 L392.0,967.4 L393.5,968.3 L395.0,970.3 L396.5,969.5 L398.0,970.1 L399.5,971.4 L401.0,971.4 L402.5,970.1 L404.0,969.9 L405.5,969.9 L407.0,967.8 L408.5,966.8 L410.0,965.7 L411.5,962.5 L413.0,961.8 L414.5,958.5 L416.0,956.4 L417.5,953.9 L419.0,951.5 L420.5,947.2 L422.0,944.6 L423.5,940.5 L425.0,937.0 L426.5,932.5 L428.0,926.7 L429.5,922.8 L431.0,917.9 L432.5,912.9 L434.0,907.9 L435.5,901.7 L437.0,895.9 L438.5,889.6 L440.0,882.1 L441.5,876.4 L443.0,869.5 L444.5,860.7 L446.0,853.9 L447.5,845.4 L449.0,838.4 L450.5,830.1 L452.0,822.0 L453.5,812.7 L455.0,804.0 L456.5,794.4 L458.0,784.7 L459.5,776.4 L461.0,766.2 L462.5,755.9 L464.0,746.7 L465.5,737.0 L467.0,726.6 L468.5,715.8 L470.0,705.7 L471.5,695.5 L473.0,684.5 L474.5,674.1 L476.0,662.8 L477.5,652.0 L479.0,641.0 L480.5,630.4 L482.0,619.1 L483.5,606.8 L485.0,595.8 L486.5,586.4 L488.0,575.7 L489.5,563.5 L491.0,553.1 L492.5,541.8 L494.0,530.8 L495.5,520.7 L497.0,511.2 L498.5,499.6 L500.0,490.8 L501.5,480.5 L503.0,470.2 L504.5,461.0 L506.0,450.2 L507.5,440.4 L509.0,431.4 L510.5,422.9 L512.0,414.3 L513.5,404.7 L515.0,397.4 L516.5,388.0 L518.0,381.7 L519.5,373.9 L521.0,366.2 L522.5,357.9 L524.0,351.0 L525.5,344.2 L527.0,338.6 L528.5,331.0 L530.0,325.1 L531.5,319.7 L533.0,314.5 L534.5,310.4 L536.0,304.7 L537.5,299.0 L539.0,294.8 L540.5,290.8 L542.0,287.7 L543.5,282.6 L545.0,280.0 L546.5,277.8 L548.0,274.2 L549.5,271.7 L551.0,268.4 L552.5,267.2 L554.0,264.7 L555.5,262.1 L557.0,261.9 L558.5,261.0 L560.0,259.7 L561.5,258.5 L563.0,258.8 L564.5,257.6 L566.0,257.3 L567.5,258.8 L569.0,258.8 L570.5,260.1 L572.0,260.7 L573.5,261.4 L575.0,263.1 L576.5,264.7 L578.0,267.2 L579.5,267.5 L581.0,271.7 L582.5,272.5 L584.0,277.2 L585.5,279.7 L587.0,282.9 L588.5,285.7 L590.0,290.2 L591.5,294.3 L593.0,299.6 L594.5,304.7 L596.0,308.0 L597.5,314.5 L599.0,318.6 L600.5,325.6 L602.0,330.2 L603.5,337.5 L605.0,342.9 L606.5,350.5 L608.0,357.5 L609.5,364.9 L611.0,371.7 L612.5,378.9 L614.0,386.6 L615.5,395.6 L617.0,404.6 L618.5,412.3 L620.0,420.9 L621.5,430.4 L623.0,440.3 L624.5,449.0 L626.0,458.0 L627.5,467.5 L629.0,477.5 L630.5,488.6 L632.0,498.3 L633.5,509.0 L635.0,518.8 L636.5,528.9 L638.0,540.8 L639.5,551.0 L641.0,562.6 L642.5,573.2 L644.0,582.8 L645.5,594.0 L647.0,604.8 L648.5,616.2 L650.0,627.4 L651.5,639.2 L653.0,648.8 L654.5,660.4 L656.0,671.9 L657.5,683.3 L659.0,692.7 L660.5,704.5 L662.0,714.5 L663.5,724.8 L665.0,734.7 L666.5,745.8 L668.0,754.2 L669.5,765.6 L671.0,775.0 L672.5,783.9 L674.0,793.3 L675.5,802.9 L677.0,812.1 L678.5,819.8 L680.0,828.7 L681.5,836.8 L683.0,844.7 L684.5,852.0 L686.0,859.1 L687.5,868.3 L689.0,874.7 L690.5,880.4 L692.0,887.4 L693.5,893.7 L695.0,900.9 L696.5,907.2 L698.0,912.3 L699.5,916.6 L701.0,921.3 L702.5,926.2 L704.0,930.6 L705.5,936.5 L707.0,940.1 L708.5,943.2 L710.0,947.9 L711.5,949.9 L713.0,953.0 L714.5,956.0 L716.0,958.7 L717.5,961.8 L719.0,962.7 L720.5,965.5 L722.0,965.7 L723.5,968.5 L725.0,969.6 L726.5,970.3 L728.0,970.7 L729.5,970.8 L731.0,969.9 L732.5,970.2 L734.0,969.3 L735.5,969.9 L737.0,968.7 L738.5,967.0 L740.0,966.9 L741.5,964.3 L743.0,962.9 L744.5,960.1 L746.0,957.7 L747.5,956.8 L749.0,953.7 L750.5,949.9 L752.0,947.5 L753.5,943.3 L755.0,939.6 L756.5,936.4 L758.0,931.4 L759.5,926.5 L761.0,922.6 L762.5,916.2 L764.0,911.7 L765.5,906.1 L767.0,899.7 L768.5,892.6 L770.0,887.2 L771.5,879.9 L773.0,873.6 L774.5,867.0 L776.0,858.8 L777.5,850.9 L779.0,844.4 L780.5,835.4 L782.0,827.3 L783.5,819.0 L785.0,811.3 L786.5,801.8 L788.0,792.4 L789.5,783.6 L791.0,773.8 L792.5,764.9 L794.0,754.1 L795.5,743.9 L797.0,734.5 L798.5,724.0 L800.0,712.7 L801.5,701.7 L803.0,691.1 L804.5,682.1 L806.0,670.3 L807.5,659.9 L809.0,648.8 L810.5,638.6 L812.0,625.9 L813.5,616.2 L815.0,605.4 L816.5,593.3 L818.0,582.9 L819.5,571.6 L821.0,560.6 L822.5,549.6 L824.0,539.1 L825.5,528.0 L827.0,518.4 L828.5,508.3 L830.0,496.6 L831.5,486.3 L833.0,477.5 L834.5,466.9 L836.0,457.1 L837.5,448.8 L839.0,439.5 L840.5,429.7 L842.0,420.2 L843.5,411.7 L845.0,402.2 L846.5,393.7 L848.0,386.4 L849.5,379.1 L851.0,371.8 L852.5,363.1 L854.0,355.9 L855.5,349.5 L857.0,342.8 L858.5,336.3 L860.0,329.8 L861.5,323.9 L863.0,318.2 L864.5,312.8 L866.0,308.3 L867.5,303.2 L869.0,299.4 L870.5,294.3 L872.0,289.5 L873.5,285.2 L875.0,282.1 L876.5,280.2 L878.0,277.0 L879.5,273.1 L881.0,269.7 L882.5,269.0 L884.0,265.6 L885.5,264.9 L887.0,262.0 L888.5,260.2 L890.0,259.7 L891.5,258.5 L893.0,258.8 L894.5,258.8 L896.0,258.7 L897.5,258.0 L899.0,259.0 L900.5,258.8 L902.0,258.5 L903.5,261.0 L905.0,262.1 L906.5,263.7 L908.0,264.3 L909.5,267.3 L911.0,269.7 L912.5,272.2 L914.0,273.5 L915.5,276.7 L917.0,280.9 L918.5,283.9 L920.0,288.3 L921.5,291.4 L923.0,295.6 L924.5,300.9 L926.0,305.3 L927.5,309.3 L929.0,314.5 L930.5,321.2 L932.0,327.3 L933.5,333.5 L935.0,339.5 L936.5,346.1 L938.0,351.7 L939.5,359.4 L941.0,365.9 L942.5,372.9 L944.0,382.1 L945.5,389.2 L947.0,397.8 L948.5,406.3 L950.0,415.8 L951.5,424.1 L953.0,433.5 L954.5,442.7 L956.0,452.1 L957.5,461.8 L959.0,470.8 L960.5,481.1 L962.0,490.0 L963.5,501.7 L965.0,510.7 L966.5,522.4 L968.0,533.1 L969.5,544.2 L971.0,554.2 L972.5,565.2 L974.0,575.4 L975.5,586.6 L977.0,597.3 L978.5,608.0 L980.0,619.9 L981.5,630.9 L983.0,642.0 L984.5,652.9 L986.0,662.6 L987.5,674.2 L989.0,685.7 L990.5,696.1 L992.0,707.1 L993.5,716.3 L995.0,726.5 L996.5,737.2 L998.0,747.4 L999.5,758.0 L1001.0,768.4 L1002.5,776.3 L1004.0,786.3 L1005.5,796.3 L1007.0,804.3 L1008.5,813.2 L1010.0,822.2 L1011.5,830.3 L1013.0,838.6 L1014.5,847.4 L1016.0,855.1 L1017.5,862.2 L1019.0,869.3 L1020.5,876.9 L1022.0,882.3 L1023.5,889.6 L1025.0,895.3 L1026.5,902.6 L1028.0,907.8 L1029.5,912.5 L1031.0,917.7 L1032.5,923.7 L1034.0,927.5 L1035.5,933.4 L1037.0,937.7 L1038.5,940.2 L1040.0,944.7 L1041.5,948.2 L1043.0,950.8 L1044.5,954.2 L1046.0,956.4 L1047.5,959.0 L1049.0,961.6 L1050.5,963.8 L1052.0,965.6 L1053.5,967.4 L1055.0,969.0 L1056.5,968.6 L1058.0,970.2 L1059.5,969.7 L1061.0,970.3 L1062.5,971.3 L1064.0,969.9 L1065.5,970.3 L1067.0,969.5 L1068.5,968.0 L1070.0,967.5 L1071.5,965.2 L1073.0,964.5 L1074.5,961.5 L1076.0,959.3 L1077.5,958.1 L1079.0,955.6 L1080.5,951.8 L1082.0,949.2 L1083.5,945.0 L1085.0,943.2 L1086.5,938.4 L1088.0,933.5 L1089.5,929.9 L1091.0,925.3 L1092.5,920.3 L1094.0,914.8 L1095.5,909.9 L1097.0,903.7 L1098.5,897.6 L1100.0,892.8 L1101.5,886.4 L1103.0,879.7 L1104.5,871.4 L1106.0,865.7 L1107.5,856.9 L1109.0,850.6 L1110.5,842.0 L1112.0,832.7 L1113.5,824.6 L1115.0,817.2 L1116.5,809.1 L1118.0,799.5 L1119.5,790.3 L1121.0,779.8 L1122.5,770.9 L1124.0,762.2 L1125.5,750.6 L1127.0,740.6 L1128.5,731.7 L1130.0,720.7 L1131.5,710.4 L1133.0,699.6 L1134.5,688.5 L1136.0,677.5 L1137.5,668.5 L1139.0,656.6 L1140.5,645.6 L1142.0,635.2 L1143.5,624.2 L1145.0,612.1 L1146.5,601.8 L1148.0,590.9 L1149.5,580.7 L1151.0,568.6 L1152.5,557.3 L1154.0,547.0 L1155.5,535.6 L1157.0,525.2 L1158.5,515.0 L1160.0,505.3 L1161.5,493.9 L1163.0,483.6 L1164.5,475.3 L1166.0,464.0 L1167.5,455.1 L1169.0,445.9 L1170.5,435.7 L1172.0,427.9 L1173.5,419.0 L1175.0,409.8 L1176.5,400.7 L1178.0,392.4 L1179.5,383.7 L1181.0,376.0 L1182.5,368.5 L1184.0,362.0 L1185.5,354.9 L1187.0,348.3 L1188.5,342.0 L1190.0,334.3 L1191.5,328.3 L1193.0,322.2 L1194.5,316.4 L1196.0,311.0 L1197.5,307.3 L1199.0,301.5 L1200.5,296.5 L1202.0,293.1 L1203.5,288.8 L1205.0,286.1 L1206.5,282.1 L1208.0,277.7 L1209.5,274.4 L1211.0,272.3 L1212.5,270.3 L1214.0,267.3 L1215.5,265.9 L1217.0,264.3 L1218.5,262.8 L1220.0,261.3 L1221.5,259.6 L1223.0,258.8 L1224.5,258.1 L1226.0,258.9 L1227.5,258.6 L1229.0,258.6 L1230.5,258.5 L1232.0,258.5 L1233.5,260.3 L1235.0,261.1 L1236.5,261.3 L1238.0,264.3 L1239.5,264.6 L1241.0,267.4 L1242.5,270.5 L1244.0,272.9 L1245.5,275.0 L1247.0,278.7 L1248.5,281.9 L1250.0,285.4 L1251.5,288.6 L1253.0,293.7 L1254.5,297.0 L1256.0,301.4 L1257.5,306.9 L1259.0,312.1 L1260.5,317.7 L1262.0,322.2 L1263.5,327.3 L1265.0,334.0 L1266.5,340.3 L1268.0,346.7 L1269.5,354.5 L1271.0,360.0 L1272.5,368.1 L1274.0,375.3 L1275.5,383.1 L1277.0,390.9 L1278.5,399.1 L1280.0,408.7 L1281.5,417.7 L1283.0,425.7 L1284.5,435.5 L1286.0,445.1 L1287.5,454.3 L1289.0,462.6 L1290.5,473.5 L1292.0,482.9 L1293.5,493.1 L1295.0,504.5 L1296.5,513.6 L1298.0,525.6 L1299.5,535.7 L1301.0,545.2 L1302.5,556.4 L1304.0,567.1 L1305.5,577.9 L1307.0,589.0 L1308.5,600.5 L1310.0,611.0 L1311.5,621.9 L1313.0,632.7 L1314.5,643.7 L1316.0,654.6 L1317.5,667.0 L1319.0,677.9 L1320.5,688.1 L1322.0,698.7 L1323.5,708.9 L1325.0,720.0 L1326.5,729.5 L1328.0,739.4 L1329.5,750.5 L1331.0,759.9 L1332.5,770.3 L1334.0,778.9 L1335.5,790.0 L1337.0,799.1 L1338.5,806.5 L1340.0,815.7 L1341.5,824.9 L1343.0,833.2 L1344.5,840.8 L1346.0,849.8 L1347.5,856.2 L1349.0,863.7 L1350.5,872.0 L1352.0,879.1 L1353.5,885.5 L1355.0,890.4 L1356.5,898.1 L1358.0,903.3 L1359.5,909.4 L1361.0,913.7 L1362.5,918.8 L1364.0,924.0 L1365.5,929.3 L1367.0,934.5 L1368.5,938.1 L1370.0,942.4 L1371.5,946.3 L1373.0,948.2 L1374.5,952.3 L1376.0,954.1 L1377.5,958.5 L1379.0,960.1 L1380.5,962.4 L1382.0,963.8 L1383.5,965.7 L1385.0,966.3 L1386.5,968.6 L1388.0,970.2 L1389.5,969.6 L1391.0,970.5 L1392.5,969.9 L1394.0,970.1 L1395.5,970.7 L1397.0,968.9 L1398.5,969.9 L1400.0,968.0 L1401.5,967.2 L1403.0,965.2 L1404.5,963.2 L1406.0,961.7 L1407.5,958.6 L1409.0,956.6 L1410.5,954.7 L1412.0,951.1 L1413.5,948.8 L1415.0,944.8 L1416.5,940.6 L1418.0,938.0 L1419.5,932.3 L1421.0,928.1 L1422.5,924.3 L1424.0,919.4 L1425.5,912.8 L1427.0,908.9 L1428.5,901.6 L1430.0,896.9 L1431.5,891.1 L1433.0,884.0 L1434.5,876.1 L1436.0,870.7 L1437.5,862.9 L1439.0,855.1 L1440.5,848.0 L1442.0,839.2 L1443.5,831.4 L1445.0,822.6 L1446.5,814.8 L1448.0,805.6 L1449.5,796.4 L1451.0,786.9 L1452.5,777.3 L1454.0,768.7 L1455.5,759.1 L1457.0,749.6 L1458.5,738.1 L1460.0,728.6 L1461.5,718.8 L1463.0,707.2 L1464.5,696.7 L1466.0,685.7 L1467.5,674.6 L1469.0,665.0 L1470.5,653.1 L1472.0,643.5 L1473.5,631.8 L1475.0,620.5 L1476.5,610.6 L1478.0,599.7 L1479.5,587.8 L1481.0,576.5 L1482.5,566.2 L1484.0,555.6 L1485.5,543.7 L1487.0,534.4 L1488.5,522.5 L1490.0,511.7 L1491.5,501.6 L1493.0,491.6 L1494.5,482.5 L1496.0,471.4 L1497.5,462.5 L1499.0,452.2 L1500.5,443.4 L1502.0,434.2 L1503.5,424.2 L1505.0,415.1 L1506.5,406.6 L1508.0,397.9 L1509.5,391.4 L1511.0,383.1 L1512.5,375.5 L1514.0,367.0 L1515.5,360.8 L1517.0,353.6 L1518.5,345.7 L1520.0,339.8 L1521.5,333.7 L1523.0,327.7 L1524.5,320.7 L1526.0,316.8 L1527.5,311.5 L1529.0,305.7 L1530.5,300.5 L1532.0,296.1 L1533.5,292.0 L1535.0,288.6 L1536.5,283.2 L1538.0,279.8 L1539.5,276.5 L1541.0,274.6 L1542.5,271.9 L1544.0,268.9 L1545.5,267.4 L1547.0,265.3 L1548.5,263.9 L1550.0,261.8 L1551.5,261.1 L1553.0,260.1 L1554.5,258.6 L1556.0,257.2 L1557.5,256.9 L1559.0,257.3 L1560.5,258.9 L1562.0,259.4 L1563.5,258.6 L1565.0,260.4 L1566.5,261.7 L1568.0,261.4 L1569.5,265.0 L1571.0,266.2 L1572.5,267.4 L1574.0,271.2 L1575.5,273.7 L1577.0,275.9 L1578.5,278.1 L1580.0,282.3 L1581.5,286.6 L1583.0,289.6 L1584.5,294.4 L1586.0,299.1 L1587.5,302.4 L1589.0,306.7 L1590.5,312.3 L1592.0,317.5 L1593.5,324.6 L1595.0,330.3 L1596.5,336.1 L1598.0,341.6 L1599.5,349.0 L1601.0,355.0 L1602.5,363.8 L1604.0,370.1 L1605.5,378.0 L1607.0,386.4 L1608.5,393.1 L1610.0,403.0 L1611.5,411.5 L1613.0,419.6 L1614.5,428.2 L1616.0,437.8 L1617.5,446.5 L1619.0,456.6 L1620.5,465.9 L1622.0,476.6 L1623.5,485.7 L1625.0,497.1 L1626.5,506.4 L1628.0,517.6 L1629.5,528.2 L1631.0,537.7 L1632.5,548.7 L1634.0,560.8 L1635.5,569.7 L1637.0,582.6 L1638.5,593.1 L1640.0,604.2 L1641.5,613.7 L1643.0,624.7 L1644.5,637.3 L1646.0,647.0 L1647.5,657.5 L1649.0,670.0 L1650.5,680.9 L1652.0,691.7 L1653.5,700.8 L1655.0,713.1 L1656.5,722.4 L1658.0,732.8 L1659.5,742.8 L1661.0,753.9 L1662.5,762.8 L1664.0,772.8 L1665.5,781.6 L1667.0,790.8 L1668.5,800.7 L1670.0,809.2 L1671.5,818.4 L1673.0,825.8 L1674.5,835.4 L1676.0,842.7 L1677.5,850.3 L1679.0,858.9 L1680.5,865.5 L1682.0,872.9 L1683.5,879.5 L1685.0,887.5 L1686.5,892.6 L1688.0,899.1 L1689.5,905.2 L1691.0,910.4 L1692.5,915.6 L1694.0,920.3 L1695.5,925.5 L1697.0,930.2 L1698.5,935.1 L1700.0,939.7 L1701.5,943.0 L1703.0,946.9 L1704.5,950.1 L1706.0,953.7 L1707.5,954.7 L1709.0,957.4 L1710.5,959.9 L1712.0,962.2 L1713.5,965.0 L1715.0,967.1 L1716.5,966.7 L1718.0,969.0 L1719.5,968.9 L1721.0,969.5 L1722.5,971.3 L1724.0,971.1 L1725.5,970.9 L1727.0,969.3 L1728.5,969.6 L1730.0,968.8 L1731.5,968.0 L1733.0,966.2 L1734.5,965.9 L1736.0,963.7 L1737.5,962.2 L1739.0,958.5 L1740.5,957.1 L1742.0,953.3 L1743.5,950.2 L1745.0,948.0 L1745.0,965.4 L1743.5,969.7 L1742.0,972.6 L1740.5,974.8 L1739.0,978.4 L1737.5,979.2 L1736.0,982.6 L1734.5,982.9 L1733.0,986.0 L1731.5,987.2 L1730.0,988.2 L1728.5,988.5 L1727.0,988.0 L1725.5,989.1 L1724.0,989.4 L1722.5,989.6 L1721.0,988.6 L1719.5,988.7 L1718.0,987.6 L1716.5,986.8 L1715.0,984.0 L1713.5,982.8 L1712.0,980.7 L1710.5,980.1 L1709.0,977.3 L1707.5,974.4 L1706.0,971.2 L1704.5,967.9 L1703.0,964.5 L1701.5,961.7 L1700.0,958.4 L1698.5,954.2 L1697.0,949.8 L1695.5,943.5 L1694.0,940.3 L1692.5,935.1 L1691.0,930.0 L1689.5,923.7 L1688.0,917.5 L1686.5,911.7 L1685.0,904.3 L1683.5,897.5 L1682.0,892.6 L1680.5,883.7 L1679.0,876.7 L1677.5,868.6 L1676.0,862.3 L1674.5,852.7 L1673.0,845.3 L1671.5,835.9 L1670.0,827.4 L1668.5,818.3 L1667.0,810.5 L1665.5,799.6 L1664.0,790.0 L1662.5,780.9 L1661.0,770.5 L1659.5,762.1 L1658.0,751.5 L1656.5,741.6 L1655.0,731.3 L1653.5,720.9 L1652.0,709.9 L1650.5,698.7 L1649.0,688.4 L1647.5,677.4 L1646.0,665.2 L1644.5,654.1 L1643.0,643.6 L1641.5,633.3 L1640.0,622.4 L1638.5,611.9 L1637.0,599.1 L1635.5,589.8 L1634.0,577.4 L1632.5,567.9 L1631.0,557.4 L1629.5,545.8 L1628.0,536.5 L1626.5,524.2 L1625.0,515.6 L1623.5,504.5 L1622.0,494.9 L1620.5,485.1 L1619.0,474.8 L1617.5,464.5 L1616.0,455.2 L1614.5,447.4 L1613.0,438.2 L1611.5,428.6 L1610.0,420.9 L1608.5,412.1 L1607.0,403.7 L1605.5,396.7 L1604.0,389.6 L1602.5,381.0 L1601.0,374.3 L1599.5,366.4 L1598.0,361.3 L1596.5,353.3 L1595.0,348.3 L1593.5,341.3 L1592.0,337.3 L1590.5,331.0 L1589.0,326.0 L1587.5,322.1 L1586.0,317.5 L1584.5,311.7 L1583.0,308.2 L1581.5,303.5 L1580.0,301.4 L1578.5,298.0 L1577.0,295.3 L1575.5,292.0 L1574.0,288.0 L1572.5,286.4 L1571.0,285.2 L1569.5,281.8 L1568.0,280.5 L1566.5,279.8 L1565.0,278.1 L1563.5,277.7 L1562.0,277.6 L1560.5,275.8 L1559.0,276.7 L1557.5,277.2 L1556.0,277.1 L1554.5,277.6 L1553.0,277.5 L1551.5,279.4 L1550.0,280.1 L1548.5,282.2 L1547.0,283.1 L1545.5,284.9 L1544.0,287.7 L1542.5,290.6 L1541.0,292.2 L1539.5,295.1 L1538.0,298.9 L1536.5,303.3 L1535.0,307.2 L1533.5,310.6 L1532.0,314.5 L1530.5,319.7 L1529.0,323.1 L1527.5,329.0 L1526.0,334.8 L1524.5,339.9 L1523.0,346.3 L1521.5,352.2 L1520.0,358.0 L1518.5,364.1 L1517.0,370.7 L1515.5,378.9 L1514.0,386.2 L1512.5,393.0 L1511.0,400.4 L1509.5,409.1 L1508.0,416.7 L1506.5,424.6 L1505.0,433.9 L1503.5,444.0 L1502.0,451.3 L1500.5,460.8 L1499.0,471.5 L1497.5,479.6 L1496.0,490.5 L1494.5,500.6 L1493.0,511.1 L1491.5,521.3 L1490.0,531.8 L1488.5,541.5 L1487.0,552.4 L1485.5,563.5 L1484.0,574.3 L1482.5,584.6 L1481.0,595.5 L1479.5,607.0 L1478.0,617.1 L1476.5,627.9 L1475.0,640.1 L1473.5,650.3 L1472.0,662.0 L1470.5,671.9 L1469.0,682.9 L1467.5,694.5 L1466.0,704.5 L1464.5,715.8 L1463.0,726.9 L1461.5,736.1 L1460.0,747.5 L1458.5,757.4 L1457.0,767.2 L1455.5,776.5 L1454.0,787.7 L1452.5,796.6 L1451.0,804.9 L1449.5,814.6 L1448.0,823.7 L1446.5,833.8 L1445.0,841.1 L1443.5,850.3 L1442.0,858.1 L1440.5,865.4 L1439.0,874.4 L1437.5,882.0 L1436.0,889.4 L1434.5,895.0 L1433.0,902.0 L1431.5,908.3 L1430.0,914.9 L1428.5,920.4 L1427.0,926.3 L1425.5,933.1 L1424.0,937.2 L1422.5,941.5 L1421.0,946.4 L1419.5,950.8 L1418.0,955.8 L1416.5,959.4 L1415.0,964.0 L1413.5,966.1 L1412.0,970.4 L1410.5,973.9 L1409.0,976.0 L1407.5,978.4 L1406.0,980.1 L1404.5,981.8 L1403.0,983.5 L1401.5,985.9 L1400.0,985.7 L1398.5,987.8 L1397.0,989.1 L1395.5,988.1 L1394.0,988.1 L1392.5,989.6 L1391.0,989.4 L1389.5,988.5 L1388.0,988.4 L1386.5,987.8 L1385.0,985.6 L1383.5,984.5 L1382.0,982.3 L1380.5,980.9 L1379.0,979.4 L1377.5,976.3 L1376.0,973.7 L1374.5,971.4 L1373.0,967.4 L1371.5,964.1 L1370.0,960.0 L1368.5,957.0 L1367.0,953.2 L1365.5,946.8 L1364.0,942.5 L1362.5,937.6 L1361.0,933.1 L1359.5,927.6 L1358.0,922.8 L1356.5,916.8 L1355.0,909.5 L1353.5,902.9 L1352.0,897.3 L1350.5,890.1 L1349.0,883.1 L1347.5,875.0 L1346.0,866.9 L1344.5,859.1 L1343.0,852.1 L1341.5,842.4 L1340.0,834.3 L1338.5,825.4 L1337.0,815.8 L1335.5,807.4 L1334.0,798.6 L1332.5,788.6 L1331.0,779.4 L1329.5,768.0 L1328.0,759.4 L1326.5,748.9 L1325.0,738.8 L1323.5,728.2 L1322.0,718.0 L1320.5,706.0 L1319.0,695.1 L1317.5,685.6 L1316.0,674.6 L1314.5,662.3 L1313.0,652.2 L1311.5,640.7 L1310.0,630.7 L1308.5,619.0 L1307.0,608.7 L1305.5,597.7 L1304.0,587.1 L1302.5,574.6 L1301.0,564.9 L1299.5,553.2 L1298.0,543.7 L1296.5,533.3 L1295.0,522.6 L1293.5,512.3 L1292.0,502.7 L1290.5,491.9 L1289.0,482.7 L1287.5,473.4 L1286.0,462.4 L1284.5,452.9 L1283.0,443.8 L1281.5,436.1 L1280.0,426.1 L1278.5,418.3 L1277.0,409.2 L1275.5,402.1 L1274.0,394.0 L1272.5,387.2 L1271.0,378.5 L1269.5,372.6 L1268.0,364.7 L1266.5,359.5 L1265.0,352.1 L1263.5,345.7 L1262.0,340.3 L1260.5,334.9 L1259.0,329.4 L1257.5,325.3 L1256.0,320.4 L1254.5,316.0 L1253.0,312.0 L1251.5,307.9 L1250.0,304.1 L1248.5,299.0 L1247.0,296.3 L1245.5,293.2 L1244.0,290.8 L1242.5,288.1 L1241.0,285.9 L1239.5,283.0 L1238.0,281.2 L1236.5,280.4 L1235.0,279.9 L1233.5,279.0 L1232.0,276.6 L1230.5,276.4 L1229.0,276.5 L1227.5,276.5 L1226.0,276.4 L1224.5,276.7 L1223.0,277.9 L1221.5,277.4 L1220.0,278.4 L1218.5,281.2 L1217.0,282.7 L1215.5,283.9 L1214.0,285.2 L1212.5,289.3 L1211.0,291.9 L1209.5,292.8 L1208.0,296.3 L1206.5,300.9 L1205.0,302.9 L1203.5,307.6 L1202.0,312.3 L1200.5,315.0 L1199.0,320.4 L1197.5,325.0 L1196.0,330.4 L1194.5,336.7 L1193.0,340.5 L1191.5,346.4 L1190.0,353.1 L1188.5,359.5 L1187.0,366.3 L1185.5,373.4 L1184.0,379.2 L1182.5,388.5 L1181.0,394.4 L1179.5,402.6 L1178.0,410.3 L1176.5,418.9 L1175.0,427.2 L1173.5,437.2 L1172.0,445.8 L1170.5,453.8 L1169.0,464.7 L1167.5,473.7 L1166.0,484.0 L1164.5,492.1 L1163.0,502.3 L1161.5,512.3 L1160.0,522.8 L1158.5,534.1 L1157.0,544.3 L1155.5,555.1 L1154.0,565.0 L1152.5,575.6 L1151.0,586.4 L1149.5,598.1 L1148.0,610.0 L1146.5,621.1 L1145.0,631.4 L1143.5,642.7 L1142.0,653.8 L1140.5,663.8 L1139.0,674.9 L1137.5,685.6 L1136.0,696.9 L1134.5,707.0 L1133.0,718.0 L1131.5,728.8 L1130.0,739.0 L1128.5,748.6 L1127.0,759.3 L1125.5,770.4 L1124.0,779.3 L1122.5,789.3 L1121.0,799.1 L1119.5,807.8 L1118.0,817.0 L1116.5,827.5 L1115.0,835.3 L1113.5,843.1 L1112.0,852.8 L1110.5,860.5 L1109.0,868.6 L1107.5,875.8 L1106.0,883.6 L1104.5,890.5 L1103.0,896.5 L1101.5,904.7 L1100.0,909.9 L1098.5,917.2 L1097.0,922.6 L1095.5,927.3 L1094.0,934.1 L1092.5,939.4 L1091.0,943.6 L1089.5,949.1 L1088.0,952.5 L1086.5,956.7 L1085.0,960.9 L1083.5,964.8 L1082.0,967.7 L1080.5,970.6 L1079.0,972.8 L1077.5,976.6 L1076.0,979.1 L1074.5,980.2 L1073.0,982.9 L1071.5,984.0 L1070.0,986.0 L1068.5,986.5 L1067.0,987.5 L1065.5,987.5 L1064.0,989.2 L1062.5,989.0 L1061.0,989.8 L1059.5,988.0 L1058.0,987.7 L1056.5,987.0 L1055.0,985.8 L1053.5,985.4 L1052.0,982.8 L1050.5,981.7 L1049.0,979.5 L1047.5,977.6 L1046.0,974.7 L1044.5,973.3 L1043.0,969.6 L1041.5,967.5 L1040.0,962.2 L1038.5,959.3 L1037.0,955.0 L1035.5,950.6 L1034.0,945.8 L1032.5,942.6 L1031.0,936.0 L1029.5,932.5 L1028.0,926.4 L1026.5,921.0 L1025.0,913.8 L1023.5,908.2 L1022.0,901.6 L1020.5,894.1 L1019.0,887.8 L1017.5,881.0 L1016.0,873.9 L1014.5,865.5 L1013.0,857.4 L1011.5,848.8 L1010.0,840.9 L1008.5,831.9 L1007.0,823.0 L1005.5,814.4 L1004.0,805.9 L1002.5,795.5 L1001.0,786.4 L999.5,777.1 L998.0,766.2 L996.5,755.7 L995.0,744.9 L993.5,736.0 L992.0,724.1 L990.5,713.8 L989.0,703.9 L987.5,693.7 L986.0,681.0 L984.5,670.4 L983.0,659.9 L981.5,650.2 L980.0,637.8 L978.5,627.6 L977.0,617.2 L975.5,605.3 L974.0,594.6 L972.5,582.3 L971.0,572.6 L969.5,561.7 L968.0,550.1 L966.5,539.8 L965.0,530.4 L963.5,520.5 L962.0,509.0 L960.5,499.2 L959.0,488.5 L957.5,480.0 L956.0,470.3 L954.5,460.3 L953.0,451.2 L951.5,442.9 L950.0,434.3 L948.5,423.8 L947.0,415.7 L945.5,407.1 L944.0,400.7 L942.5,391.4 L941.0,385.6 L939.5,378.4 L938.0,369.7 L936.5,363.1 L935.0,357.7 L933.5,351.8 L932.0,345.9 L930.5,338.2 L929.0,334.7 L927.5,327.8 L926.0,324.0 L924.5,319.5 L923.0,315.0 L921.5,309.9 L920.0,306.4 L918.5,303.1 L917.0,298.5 L915.5,296.3 L914.0,292.2 L912.5,290.7 L911.0,287.7 L909.5,286.3 L908.0,283.6 L906.5,281.0 L905.0,280.0 L903.5,278.4 L902.0,278.1 L900.5,278.0 L899.0,276.7 L897.5,277.0 L896.0,276.5 L894.5,276.9 L893.0,277.7 L891.5,277.5 L890.0,278.1 L888.5,279.6 L887.0,280.5 L885.5,281.7 L884.0,285.4 L882.5,286.0 L881.0,288.8 L879.5,291.0 L878.0,294.6 L876.5,296.9 L875.0,300.2 L873.5,304.1 L872.0,308.3 L870.5,313.0 L869.0,316.1 L867.5,322.6 L866.0,326.2 L864.5,332.7 L863.0,336.8 L861.5,343.4 L860.0,348.3 L858.5,354.6 L857.0,361.7 L855.5,368.2 L854.0,374.8 L852.5,381.3 L851.0,388.8 L849.5,396.4 L848.0,405.5 L846.5,412.3 L845.0,421.7 L843.5,429.1 L842.0,438.4 L840.5,447.8 L839.0,457.3 L837.5,466.2 L836.0,475.6 L834.5,485.5 L833.0,496.1 L831.5,505.0 L830.0,516.1 L828.5,526.2 L827.0,535.8 L825.5,547.9 L824.0,556.9 L822.5,569.5 L821.0,578.7 L819.5,591.0 L818.0,600.6 L816.5,611.6 L815.0,622.7 L813.5,633.2 L812.0,644.7 L810.5,656.1 L809.0,667.9 L807.5,678.6 L806.0,689.9 L804.5,699.0 L803.0,710.6 L801.5,720.7 L800.0,731.7 L798.5,741.6 L797.0,751.4 L795.5,762.0 L794.0,772.3 L792.5,783.1 L791.0,791.2 L789.5,800.9 L788.0,810.5 L786.5,820.9 L785.0,828.5 L783.5,837.4 L782.0,845.8 L780.5,854.4 L779.0,863.0 L777.5,870.6 L776.0,878.6 L774.5,884.7 L773.0,892.6 L771.5,899.7 L770.0,906.3 L768.5,911.2 L767.0,919.1 L765.5,924.2 L764.0,929.7 L762.5,934.5 L761.0,939.4 L759.5,945.9 L758.0,948.5 L756.5,954.0 L755.0,957.6 L753.5,961.8 L752.0,965.0 L750.5,967.6 L749.0,972.4 L747.5,974.1 L746.0,977.2 L744.5,979.1 L743.0,980.6 L741.5,982.9 L740.0,985.4 L738.5,985.1 L737.0,987.9 L735.5,987.3 L734.0,987.6 L732.5,989.6 L731.0,989.2 L729.5,988.3 L728.0,989.1 L726.5,988.2 L725.0,987.9 L723.5,985.2 L722.0,985.0 L720.5,983.2 L719.0,981.0 L717.5,980.4 L716.0,977.8 L714.5,973.8 L713.0,971.0 L711.5,969.8 L710.0,965.3 L708.5,962.7 L707.0,958.8 L705.5,954.7 L704.0,950.7 L702.5,945.5 L701.0,940.8 L699.5,935.4 L698.0,929.8 L696.5,924.8 L695.0,918.5 L693.5,911.8 L692.0,905.6 L690.5,899.9 L689.0,892.3 L687.5,886.6 L686.0,879.0 L684.5,870.2 L683.0,863.6 L681.5,855.9 L680.0,846.0 L678.5,837.6 L677.0,829.8 L675.5,821.0 L674.0,811.8 L672.5,801.9 L671.0,792.1 L669.5,784.0 L668.0,773.5 L666.5,762.8 L665.0,753.1 L663.5,743.1 L662.0,732.8 L660.5,722.4 L659.0,711.4 L657.5,700.1 L656.0,690.8 L654.5,678.7 L653.0,668.2 L651.5,657.4 L650.0,646.5 L648.5,634.3 L647.0,624.5 L645.5,614.2 L644.0,603.1 L642.5,591.2 L641.0,579.6 L639.5,569.3 L638.0,558.7 L636.5,547.5 L635.0,538.3 L633.5,527.0 L632.0,516.7 L630.5,506.9 L629.0,496.4 L627.5,487.4 L626.0,475.9 L624.5,466.7 L623.0,457.0 L621.5,449.7 L620.0,439.1 L618.5,430.1 L617.0,422.0 L615.5,414.0 L614.0,406.8 L612.5,398.4 L611.0,390.6 L609.5,381.9 L608.0,376.3 L606.5,368.8 L605.0,361.6 L603.5,354.9 L602.0,349.9 L600.5,344.0 L599.0,338.6 L597.5,332.6 L596.0,326.7 L594.5,322.7 L593.0,316.8 L591.5,312.6 L590.0,309.8 L588.5,305.3 L587.0,300.4 L585.5,297.4 L584.0,294.8 L582.5,292.1 L581.0,289.8 L579.5,287.4 L578.0,283.8 L576.5,282.2 L575.0,281.1 L573.5,279.0 L572.0,279.0 L570.5,277.2 L569.0,276.3 L567.5,276.0 L566.0,276.9 L564.5,276.2 L563.0,276.9 L561.5,277.6 L560.0,278.4 L558.5,278.9 L557.0,280.8 L555.5,281.1 L554.0,283.0 L552.5,284.6 L551.0,287.6 L549.5,289.0 L548.0,291.8 L546.5,295.1 L545.0,298.0 L543.5,302.3 L542.0,305.8 L540.5,310.3 L539.0,312.9 L537.5,317.5 L536.0,323.0 L534.5,328.4 L533.0,333.1 L531.5,339.3 L530.0,344.8 L528.5,350.2 L527.0,355.8 L525.5,363.8 L524.0,369.6 L522.5,376.0 L521.0,384.9 L519.5,392.2 L518.0,398.7 L516.5,407.4 L515.0,414.5 L513.5,424.4 L512.0,431.4 L510.5,441.6 L509.0,449.8 L507.5,459.6 L506.0,468.3 L504.5,478.1 L503.0,488.0 L501.5,497.6 L500.0,507.4 L498.5,519.0 L497.0,529.7 L495.5,538.7 L494.0,549.7 L492.5,560.1 L491.0,571.7 L489.5,581.9 L488.0,593.5 L486.5,603.6 L485.0,615.8 L483.5,626.6 L482.0,636.9 L480.5,648.5 L479.0,658.5 L477.5,669.1 L476.0,680.9 L474.5,691.9 L473.0,702.9 L471.5,714.0 L470.0,723.0 L468.5,734.0 L467.0,745.1 L465.5,755.6 L464.0,765.2 L462.5,774.3 L461.0,784.3 L459.5,794.0 L458.0,804.2 L456.5,812.8 L455.0,821.6 L453.5,830.6 L452.0,840.8 L450.5,849.2 L449.0,857.0 L447.5,863.8 L446.0,873.0 L444.5,879.0 L443.0,886.6 L441.5,894.6 L440.0,900.6 L438.5,906.5 L437.0,913.3 L435.5,919.3 L434.0,926.2 L432.5,930.2 L431.0,936.1 L429.5,940.6 L428.0,945.7 L426.5,950.0 L425.0,954.2 L423.5,959.5 L422.0,963.4 L420.5,965.6 L419.0,969.2 L417.5,973.3 L416.0,976.1 L414.5,977.2 L413.0,980.7 L411.5,982.6 L410.0,982.7 L408.5,985.4 L407.0,987.3 L405.5,988.2 L404.0,988.0 L402.5,988.4 L401.0,989.9 L399.5,988.6 L398.0,988.7 L396.5,988.2 L395.0,986.9 L393.5,987.6 L392.0,986.5 L390.5,983.8 L389.0,982.1 L387.5,980.3 L386.0,978.7 L384.5,977.6 L383.0,974.3 L381.5,971.2 L380.0,967.4 L378.5,964.8 L377.0,960.7 L375.5,957.6 L374.0,953.7 L372.5,947.8 L371.0,945.1 L369.5,939.5 L368.0,933.5 L366.5,928.8 L365.0,922.7 L363.5,917.0 L362.0,912.1 L360.5,905.1 L359.0,897.2 L357.5,891.8 L356.0,883.6 L354.5,877.2 L353.0,868.6 L351.5,861.3 L350.0,853.0 L348.5,845.5 L347.0,836.3 L345.5,827.1 L344.0,818.5 L342.5,810.2 L341.0,800.1 L339.5,790.2 L338.0,780.7 L336.5,771.8 L335.0,761.3 L333.5,750.6 L332.0,739.4 L330.5,730.7 L329.0,718.7 L327.5,709.3 L326.0,697.5 L324.5,686.3 L323.0,676.4 L321.5,664.9 L320.0,654.2 L318.5,644.0 L317.0,631.9 L315.5,621.4 L314.0,609.9 L312.5,599.3 L311.0,588.2 L309.5,578.3 L308.0,566.6 L306.5,556.9 L305.0,545.5 L303.5,533.8 L302.0,523.6 L300.5,514.5 L299.0,503.9 L297.5,494.4 L296.0,484.1 L294.5,475.1 L293.0,465.2 L291.5,455.1 L290.0,446.8 L288.5,436.8 L287.0,429.1 L285.5,419.9 L284.0,411.7 L282.5,402.9 L281.0,396.5 L279.5,389.3 L278.0,380.9 L276.5,373.2 L275.0,366.6 L273.5,360.4Z" stroke-width="8.0" stroke-linejoin="round"/><path d="M1716,990 L1725,998 L1735,1000 L1740,999 L1742,1010 L1745.5,1000 L1747,985 L1747.5,899 L1762,896 L1762.5,984 L1756,984 L1752,960 L1740,975 Z" stroke-width="2" stroke-linejoin="round"/><path d="M1760,905 L1762.5,896 L1767.4,881 L1789.1,752 L1805.6,627.5 L1824.5,502 L1843.9,375 L1857,290 L1858.5,281" fill="none" stroke-width="9.5" stroke-linejoin="round"/></g><mask id="bm" maskUnits="userSpaceOnUse" x="0" y="0" width="2123" height="1341"><use href="#bl" fill="#fff" stroke="#fff"/></mask></defs><use href="#bl" fill="#2ea6dd" stroke="#2ea6dd"/><use href="#rd" fill="#ff0000" stroke="#ff0000"/><g mask="url(#bm)"><line x1="270" y1="122.0" x2="1860" y2="122.0" stroke="#1f6f9f" stroke-width="2.2"/><line x1="270" y1="250.5" x2="1860" y2="250.5" stroke="#1f6f9f" stroke-width="2.5"/><line x1="270" y1="375.0" x2="1860" y2="375.0" stroke="#4a95c0" stroke-width="2.6"/><line x1="270" y1="502.0" x2="1860" y2="502.0" stroke="#00508a" stroke-width="2.2"/><line x1="270" y1="627.5" x2="1860" y2="627.5" stroke="#00508a" stroke-width="2.5"/><line x1="270" y1="753.2" x2="1860" y2="753.2" stroke="#1f6f9f" stroke-width="2.2"/><line x1="270" y1="881.5" x2="1860" y2="881.5" stroke="#1f6f9f" stroke-width="2.6"/><line x1="270" y1="1006.7" x2="1860" y2="1006.7" stroke="#4a95c0" stroke-width="2.4"/><use href="#rd" fill="#6a3c7c" stroke="#6a3c7c"/></g><ellipse cx="1716.5" cy="699.3" rx="142.5" ry="280.3" fill="none" stroke="#00b050" stroke-width="18"/><g font-family="Liberation Serif, Times New Roman, serif" font-size="56" fill="#000"><text x="207.5" y="140.5" text-anchor="end">200</text><text x="1907.5" y="140.5">40</text><text x="207.5" y="269.0" text-anchor="end">150</text><text x="1907.5" y="269.0">30</text><text x="207.5" y="393.5" text-anchor="end">100</text><text x="1907.5" y="393.5">20</text><text x="207.5" y="520.5" text-anchor="end">50</text><text x="1907.5" y="520.5">10</text><text x="207.5" y="646.0" text-anchor="end">0</text><text x="1907.5" y="646.0">0</text><text x="207.5" y="771.7" text-anchor="end">-50</text><text x="1907.5" y="771.7">-10</text><text x="207.5" y="900.0" text-anchor="end">-100</text><text x="1907.5" y="900.0">-20</text><text x="207.5" y="1025.2" text-anchor="end">-150</text><text x="1907.5" y="1025.2">-30</text><text x="207.5" y="1151.3" text-anchor="end">-200</text><text x="1907.5" y="1151.3">-40</text><text x="270.0" y="1217.5" text-anchor="middle">0</text><text x="468.8" y="1217.5" text-anchor="middle">10</text><text x="667.6" y="1217.5" text-anchor="middle">20</text><text x="866.4" y="1217.5" text-anchor="middle">30</text><text x="1065.2" y="1217.5" text-anchor="middle">40</text><text x="1264.0" y="1217.5" text-anchor="middle">50</text><text x="1462.8" y="1217.5" text-anchor="middle">60</text><text x="1661.6" y="1217.5" text-anchor="middle">70</text><text x="1860.4" y="1217.5" text-anchor="middle">80</text><text x="1064.5" y="1289.5" text-anchor="middle">Time [ms]</text><text transform="translate(84.8,629.3) rotate(-90)" text-anchor="middle">Voltage [V]</text><text transform="translate(2058.6,628.3) rotate(-90)" text-anchor="middle">Current [A]</text><text x="630" y="71.6">Experimental voltage</text><text x="1389.5" y="71.9">Current</text></g><line x1="567" y1="54" x2="627" y2="54" stroke="#ff0000" stroke-width="7"/><line x1="1326" y1="54" x2="1386" y2="54" stroke="#3aa0d0" stroke-width="7"/></svg>
</body></html>
